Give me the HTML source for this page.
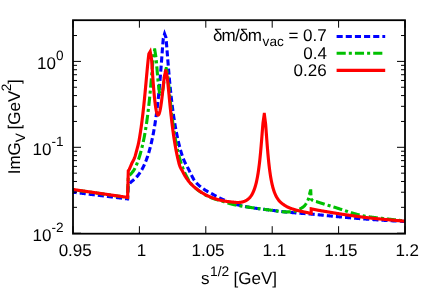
<!DOCTYPE html>
<html><head><meta charset="utf-8"><style>
html,body{margin:0;padding:0;background:#fff;}
svg{display:block;will-change:transform;}
text{font-family:"Liberation Sans",sans-serif;font-size:17px;fill:#000;text-rendering:geometricPrecision;}
</style></head><body>
<svg width="436" height="305" viewBox="0 0 436 305">
<g fill="none" stroke-linejoin="miter" stroke-miterlimit="12">
<path d="M73.00 192.20 L73.20 192.22 L73.40 192.25 L73.60 192.27 L73.80 192.30 L74.00 192.32 L74.20 192.35 L74.40 192.37 L74.60 192.40 L74.80 192.42 L75.00 192.45 L75.20 192.47 L75.40 192.49 L75.60 192.52 L75.80 192.54 L76.00 192.57 L76.20 192.59 L76.40 192.62 L76.60 192.64 L76.80 192.67 L77.00 192.69 L77.20 192.72 L77.40 192.74 L77.60 192.76 L77.80 192.79 L78.00 192.81 L78.20 192.84 L78.40 192.86 L78.60 192.89 L78.80 192.91 L79.00 192.94 L79.20 192.96 L79.40 192.99 L79.60 193.01 L79.80 193.03 L80.00 193.06 L80.20 193.08 L80.40 193.11 L80.60 193.13 L80.80 193.16 L81.00 193.18 L81.20 193.21 L81.40 193.23 L81.60 193.26 L81.80 193.28 L82.00 193.30 L82.20 193.33 L82.40 193.35 L82.60 193.38 L82.80 193.40 L83.00 193.43 L83.20 193.45 L83.40 193.48 L83.60 193.50 L83.80 193.53 L84.00 193.55 L84.20 193.57 L84.40 193.60 L84.60 193.62 L84.80 193.65 L85.00 193.67 L85.20 193.70 L85.40 193.72 L85.60 193.75 L85.80 193.77 L86.00 193.80 L86.20 193.82 L86.40 193.84 L86.60 193.87 L86.80 193.89 L87.00 193.92 L87.20 193.94 L87.40 193.97 L87.60 193.99 L87.80 194.02 L88.00 194.04 L88.20 194.07 L88.40 194.09 L88.60 194.11 L88.80 194.14 L89.00 194.16 L89.20 194.19 L89.40 194.21 L89.60 194.24 L89.80 194.26 L90.00 194.29 L90.20 194.31 L90.40 194.34 L90.60 194.36 L90.80 194.38 L91.00 194.41 L91.20 194.43 L91.40 194.46 L91.60 194.48 L91.80 194.51 L92.00 194.53 L92.20 194.56 L92.40 194.58 L92.60 194.61 L92.80 194.63 L93.00 194.65 L93.20 194.68 L93.40 194.70 L93.60 194.73 L93.80 194.75 L94.00 194.78 L94.20 194.80 L94.40 194.83 L94.60 194.85 L94.80 194.88 L95.00 194.90 L95.20 194.92 L95.40 194.95 L95.60 194.97 L95.80 195.00 L96.00 195.02 L96.20 195.05 L96.40 195.07 L96.60 195.10 L96.80 195.12 L97.00 195.15 L97.20 195.17 L97.40 195.19 L97.60 195.22 L97.80 195.24 L98.00 195.27 L98.20 195.29 L98.40 195.32 L98.60 195.34 L98.80 195.37 L99.00 195.39 L99.20 195.42 L99.40 195.44 L99.60 195.46 L99.80 195.49 L100.00 195.51 L100.20 195.54 L100.40 195.56 L100.60 195.59 L100.80 195.61 L101.00 195.64 L101.20 195.66 L101.40 195.68 L101.60 195.71 L101.80 195.73 L102.00 195.76 L102.20 195.78 L102.40 195.81 L102.60 195.83 L102.80 195.86 L103.00 195.88 L103.20 195.91 L103.40 195.93 L103.60 195.95 L103.80 195.98 L104.00 196.00 L104.20 196.03 L104.40 196.05 L104.60 196.08 L104.80 196.10 L105.00 196.13 L105.20 196.15 L105.40 196.18 L105.60 196.20 L105.80 196.22 L106.00 196.25 L106.20 196.27 L106.40 196.30 L106.60 196.32 L106.80 196.35 L107.00 196.37 L107.20 196.40 L107.40 196.42 L107.60 196.45 L107.80 196.47 L108.00 196.49 L108.20 196.52 L108.40 196.54 L108.60 196.57 L108.80 196.59 L109.00 196.62 L109.20 196.64 L109.40 196.67 L109.60 196.69 L109.80 196.72 L110.00 196.74 L110.20 196.76 L110.40 196.79 L110.60 196.81 L110.80 196.84 L111.00 196.86 L111.20 196.89 L111.40 196.91 L111.60 196.94 L111.80 196.96 L112.00 196.99 L112.20 197.01 L112.40 197.03 L112.60 197.06 L112.80 197.08 L113.00 197.11 L113.20 197.13 L113.40 197.16 L113.60 197.18 L113.80 197.21 L114.00 197.23 L114.20 197.26 L114.40 197.28 L114.60 197.30 L114.80 197.33 L115.00 197.35 L115.20 197.38 L115.40 197.40 L115.60 197.43 L115.80 197.45 L116.00 197.48 L116.20 197.50 L116.40 197.53 L116.60 197.55 L116.80 197.57 L117.00 197.60 L117.20 197.62 L117.40 197.65 L117.60 197.67 L117.80 197.70 L118.00 197.72 L118.20 197.75 L118.40 197.77 L118.60 197.80 L118.80 197.82 L119.00 197.84 L119.20 197.87 L119.40 197.89 L119.60 197.92 L119.80 197.94 L120.00 197.97 L120.20 197.99 L120.40 198.02 L120.60 198.04 L120.80 198.07 L121.00 198.09 L121.20 198.11 L121.40 198.14 L121.60 198.16 L121.80 198.19 L122.00 198.21 L122.20 198.24 L122.40 198.26 L122.60 198.29 L122.80 198.31 L123.00 198.34 L123.20 198.36 L123.40 198.38 L123.60 198.41 L123.80 198.43 L124.00 198.46 L124.20 198.48 L124.40 198.51 L124.60 198.53 L124.80 198.56 L125.00 198.58 L125.20 198.61 L125.40 198.63 L125.60 198.65 L125.80 198.68 L126.00 198.70 L126.20 198.73 L126.40 198.75 L126.60 198.78 L126.80 198.80 L127.00 198.83 L127.20 198.85 L127.40 198.88 L127.60 198.90 L128.30 186.00 L128.50 185.66 L128.70 185.30 L128.90 184.95 L129.10 184.59 L129.30 184.24 L129.50 183.90 L129.70 183.57 L129.90 183.26 L130.10 182.98 L130.30 182.71 L130.50 182.48 L130.70 182.29 L130.90 182.12 L131.10 181.96 L131.30 181.80 L131.50 181.64 L131.70 181.47 L131.90 181.31 L132.10 181.15 L132.30 180.98 L132.50 180.82 L132.70 180.65 L132.90 180.48 L133.10 180.31 L133.30 180.14 L133.50 179.96 L133.70 179.79 L133.90 179.61 L134.10 179.43 L134.30 179.25 L134.50 179.06 L134.70 178.88 L134.90 178.69 L135.10 178.49 L135.30 178.30 L135.50 178.10 L135.70 177.90 L135.90 177.69 L136.10 177.48 L136.30 177.27 L136.50 177.06 L136.70 176.84 L136.90 176.61 L137.10 176.39 L137.30 176.15 L137.50 175.92 L137.70 175.68 L137.90 175.43 L138.10 175.18 L138.30 174.93 L138.50 174.67 L138.70 174.41 L138.90 174.14 L139.10 173.86 L139.30 173.58 L139.50 173.30 L139.70 173.01 L139.90 172.72 L140.10 172.42 L140.30 172.12 L140.50 171.82 L140.70 171.50 L140.90 171.19 L141.10 170.86 L141.30 170.53 L141.50 170.20 L141.70 169.86 L141.90 169.51 L142.10 169.16 L142.30 168.80 L142.50 168.43 L142.70 168.06 L142.90 167.67 L143.10 167.29 L143.30 166.89 L143.50 166.49 L143.70 166.08 L143.90 165.66 L144.10 165.23 L144.30 164.80 L144.50 164.35 L144.70 163.90 L144.90 163.44 L145.10 162.97 L145.30 162.49 L145.50 162.01 L145.70 161.51 L145.90 161.01 L146.10 160.49 L146.30 159.97 L146.50 159.44 L146.70 158.89 L146.90 158.34 L147.10 157.78 L147.30 157.20 L147.50 156.62 L147.70 156.02 L147.90 155.41 L148.10 154.79 L148.30 154.16 L148.50 153.52 L148.70 152.87 L148.90 152.20 L149.10 151.52 L149.30 150.82 L149.50 150.11 L149.70 149.39 L149.90 148.66 L150.10 147.91 L150.30 147.14 L150.50 146.36 L150.70 145.57 L150.90 144.75 L151.10 143.92 L151.30 143.08 L151.50 142.22 L151.70 141.34 L151.90 140.44 L152.10 139.52 L152.30 138.58 L152.50 137.63 L152.70 136.65 L152.90 135.65 L153.10 134.64 L153.30 133.60 L153.50 132.53 L153.70 131.45 L153.90 130.34 L154.10 129.20 L154.30 128.05 L154.50 126.86 L154.70 125.65 L154.90 124.41 L155.10 123.14 L155.30 121.85 L155.50 120.52 L155.70 119.16 L155.90 117.77 L156.10 116.35 L156.30 114.90 L156.50 113.40 L156.70 111.88 L156.90 110.31 L157.10 108.71 L157.30 107.07 L157.50 105.39 L157.70 103.66 L157.90 101.89 L158.10 100.08 L158.30 98.22 L158.50 96.31 L158.70 94.36 L158.90 92.35 L159.10 90.30 L159.30 88.19 L159.50 86.03 L159.70 83.81 L159.90 81.54 L160.10 79.22 L160.30 76.84 L160.50 74.40 L160.70 71.92 L160.90 69.38 L161.10 66.79 L161.30 64.17 L161.50 61.51 L161.70 58.82 L161.90 56.11 L162.10 53.40 L162.30 50.70 L162.50 48.04 L162.70 45.43 L162.90 42.92 L163.10 40.53 L163.30 38.30 L164.60 33.84 L165.90 37.36 L166.10 39.36 L166.30 41.50 L166.50 43.78 L166.70 46.15 L166.90 48.59 L167.10 51.08 L167.30 53.60 L167.50 56.12 L167.70 58.65 L167.90 61.16 L168.10 63.64 L168.30 66.10 L168.50 68.52 L168.70 70.90 L168.90 73.24 L169.10 75.54 L169.30 77.79 L169.50 79.99 L169.70 82.15 L169.90 84.26 L170.10 86.32 L170.30 88.33 L170.50 90.30 L170.70 92.23 L170.90 94.11 L171.10 95.95 L171.30 97.74 L171.50 99.50 L171.70 101.21 L171.90 102.89 L172.10 104.53 L172.30 106.13 L172.50 107.69 L172.70 109.22 L172.90 110.72 L173.10 112.19 L173.30 113.62 L173.50 115.02 L173.70 116.39 L173.90 117.74 L174.10 119.05 L174.30 120.34 L174.50 121.60 L174.70 122.83 L174.90 124.04 L175.10 125.23 L175.30 126.39 L175.50 127.53 L175.70 128.64 L175.90 129.74 L176.10 130.81 L176.30 131.86 L176.50 132.90 L176.70 133.91 L176.90 134.90 L177.10 135.88 L177.30 136.83 L177.50 137.77 L177.70 138.69 L177.90 139.60 L178.10 140.48 L178.30 141.36 L178.50 142.21 L178.70 143.05 L178.90 143.88 L179.10 144.69 L179.30 145.49 L179.50 146.27 L179.70 147.04 L179.90 147.80 L180.10 148.54 L180.30 149.27 L180.50 149.99 L180.70 150.69 L180.90 151.39 L181.10 152.07 L181.30 152.74 L181.50 153.40 L181.70 154.05 L181.90 154.69 L182.10 155.31 L182.30 155.92 L182.50 156.51 L182.70 157.08 L182.90 157.64 L183.10 158.17 L183.30 158.70 L183.50 159.20 L183.70 159.69 L183.90 160.17 L184.10 160.63 L184.30 161.07 L184.50 161.51 L184.70 161.93 L184.90 162.35 L185.10 162.75 L185.30 163.14 L185.50 163.53 L185.70 163.91 L185.90 164.28 L186.10 164.65 L186.30 165.02 L186.50 165.38 L186.70 165.75 L186.90 166.11 L187.10 166.48 L187.30 166.84 L187.50 167.22 L187.70 167.60 L187.90 167.99 L188.10 168.38 L188.30 168.77 L188.50 169.16 L188.70 169.56 L188.90 169.96 L189.10 170.36 L189.30 170.77 L189.50 171.17 L189.70 171.58 L189.90 171.99 L190.10 172.40 L190.30 172.81 L190.50 173.21 L190.70 173.62 L190.90 174.03 L191.10 174.43 L191.30 174.84 L191.50 175.24 L191.70 175.63 L191.90 176.03 L192.10 176.42 L192.30 176.80 L192.50 177.18 L192.70 177.55 L192.90 177.92 L193.10 178.28 L193.30 178.64 L193.50 178.98 L193.70 179.32 L193.90 179.64 L194.10 179.96 L194.30 180.27 L194.50 180.56 L194.70 180.85 L194.90 181.12 L195.10 181.38 L195.30 181.62 L195.50 181.86 L195.70 182.09 L195.90 182.32 L196.10 182.55 L196.30 182.77 L196.50 182.99 L196.70 183.21 L196.90 183.42 L197.10 183.62 L197.30 183.82 L197.50 184.02 L197.70 184.22 L197.90 184.41 L198.10 184.60 L198.30 184.79 L198.50 184.97 L198.70 185.15 L198.90 185.33 L199.10 185.51 L199.30 185.68 L199.50 185.85 L199.70 186.02 L199.90 186.18 L200.10 186.34 L200.30 186.51 L200.50 186.66 L200.70 186.82 L200.90 186.98 L201.10 187.13 L201.30 187.29 L201.50 187.44 L201.70 187.59 L201.90 187.74 L202.10 187.89 L202.30 188.03 L202.50 188.18 L202.70 188.33 L202.90 188.47 L203.10 188.62 L203.30 188.76 L203.50 188.90 L203.70 189.04 L203.90 189.18 L204.10 189.31 L204.30 189.45 L204.50 189.58 L204.70 189.71 L204.90 189.84 L205.10 189.97 L205.30 190.10 L205.50 190.22 L205.70 190.35 L205.90 190.47 L206.10 190.59 L206.30 190.71 L206.50 190.83 L206.70 190.95 L206.90 191.07 L207.10 191.18 L207.30 191.30 L207.50 191.41 L207.70 191.52 L207.90 191.64 L208.10 191.75 L208.30 191.86 L208.50 191.97 L208.70 192.07 L208.90 192.18 L209.10 192.29 L209.30 192.39 L209.50 192.50 L209.70 192.60 L209.90 192.70 L210.10 192.81 L210.30 192.91 L210.50 193.02 L210.70 193.13 L210.90 193.23 L211.10 193.34 L211.30 193.45 L211.50 193.56 L211.70 193.67 L211.90 193.78 L212.10 193.89 L212.30 194.01 L212.50 194.12 L212.70 194.23 L212.90 194.34 L213.10 194.46 L213.30 194.57 L213.50 194.69 L213.70 194.80 L213.90 194.91 L214.10 195.03 L214.30 195.14 L214.50 195.26 L214.70 195.37 L214.90 195.48 L215.10 195.60 L215.30 195.71 L215.50 195.83 L215.70 195.94 L215.90 196.05 L216.10 196.17 L216.30 196.28 L216.50 196.39 L216.70 196.50 L216.90 196.61 L217.10 196.72 L217.30 196.83 L217.50 196.94 L217.70 197.05 L217.90 197.15 L218.10 197.26 L218.30 197.36 L218.50 197.47 L218.70 197.57 L218.90 197.67 L219.10 197.77 L219.30 197.87 L219.50 197.97 L219.70 198.07 L219.90 198.16 L220.10 198.25 L220.30 198.35 L220.50 198.44 L220.70 198.53 L220.90 198.62 L221.10 198.71 L221.30 198.80 L221.50 198.89 L221.70 198.98 L221.90 199.07 L222.10 199.16 L222.30 199.25 L222.50 199.34 L222.70 199.42 L222.90 199.51 L223.10 199.60 L223.30 199.69 L223.50 199.77 L223.70 199.86 L223.90 199.95 L224.10 200.03 L224.30 200.12 L224.50 200.20 L224.70 200.29 L224.90 200.37 L225.10 200.46 L225.30 200.54 L225.50 200.63 L225.70 200.71 L225.90 200.79 L226.10 200.87 L226.30 200.96 L226.50 201.04 L226.70 201.12 L226.90 201.20 L227.10 201.28 L227.30 201.36 L227.50 201.44 L227.70 201.52 L227.90 201.60 L228.10 201.68 L228.30 201.76 L228.50 201.83 L228.70 201.91 L228.90 201.99 L229.10 202.06 L229.30 202.14 L229.50 202.22 L229.70 202.29 L229.90 202.37 L230.10 202.44 L230.30 202.51 L230.50 202.59 L230.70 202.66 L230.90 202.73 L231.10 202.80 L231.30 202.87 L231.50 202.95 L231.70 203.02 L231.90 203.09 L232.10 203.15 L232.30 203.22 L232.50 203.29 L232.70 203.36 L232.90 203.43 L233.10 203.49 L233.30 203.56 L233.50 203.62 L233.70 203.69 L233.90 203.75 L234.10 203.82 L234.30 203.88 L234.50 203.94 L234.70 204.00 L234.90 204.06 L235.10 204.13 L235.30 204.19 L235.50 204.24 L235.70 204.30 L235.90 204.36 L236.10 204.42 L236.30 204.47 L236.50 204.53 L236.70 204.59 L236.90 204.64 L237.10 204.69 L237.30 204.75 L237.50 204.80 L237.70 204.85 L237.90 204.90 L238.10 204.95 L238.30 205.00 L238.50 205.06 L238.70 205.10 L238.90 205.15 L239.10 205.20 L239.30 205.25 L239.50 205.30 L239.70 205.35 L239.90 205.40 L240.10 205.44 L240.30 205.49 L240.50 205.54 L240.70 205.58 L240.90 205.63 L241.10 205.67 L241.30 205.72 L241.50 205.76 L241.70 205.81 L241.90 205.85 L242.10 205.89 L242.30 205.94 L242.50 205.98 L242.70 206.02 L242.90 206.06 L243.10 206.11 L243.30 206.15 L243.50 206.19 L243.70 206.23 L243.90 206.27 L244.10 206.31 L244.30 206.35 L244.50 206.39 L244.70 206.43 L244.90 206.47 L245.10 206.51 L245.30 206.55 L245.50 206.59 L245.70 206.63 L245.90 206.66 L246.10 206.70 L246.30 206.74 L246.50 206.78 L246.70 206.81 L246.90 206.85 L247.10 206.89 L247.30 206.92 L247.50 206.96 L247.70 207.00 L247.90 207.03 L248.10 207.07 L248.30 207.10 L248.50 207.14 L248.70 207.18 L248.90 207.21 L249.10 207.25 L249.30 207.28 L249.50 207.31 L249.70 207.35 L249.90 207.38 L250.10 207.42 L250.30 207.45 L250.50 207.48 L250.70 207.52 L250.90 207.55 L251.10 207.58 L251.30 207.62 L251.50 207.65 L251.70 207.68 L251.90 207.71 L252.10 207.75 L252.30 207.78 L252.50 207.81 L252.70 207.84 L252.90 207.87 L253.10 207.90 L253.30 207.93 L253.50 207.96 L253.70 207.99 L253.90 208.02 L254.10 208.05 L254.30 208.08 L254.50 208.11 L254.70 208.14 L254.90 208.17 L255.10 208.20 L255.30 208.23 L255.50 208.26 L255.70 208.29 L255.90 208.31 L256.10 208.34 L256.30 208.37 L256.50 208.40 L256.70 208.43 L256.90 208.45 L257.10 208.48 L257.30 208.51 L257.50 208.54 L257.70 208.56 L257.90 208.59 L258.10 208.62 L258.30 208.64 L258.50 208.67 L258.70 208.70 L258.90 208.72 L259.10 208.75 L259.30 208.77 L259.50 208.80 L259.70 208.83 L259.90 208.85 L260.10 208.88 L260.30 208.90 L260.50 208.93 L260.70 208.95 L260.90 208.98 L261.10 209.00 L261.30 209.03 L261.50 209.05 L261.70 209.08 L261.90 209.10 L262.10 209.13 L262.30 209.15 L262.50 209.18 L262.70 209.20 L262.90 209.23 L263.10 209.25 L263.30 209.28 L263.50 209.30 L263.70 209.32 L263.90 209.35 L264.10 209.37 L264.30 209.40 L264.50 209.42 L264.70 209.44 L264.90 209.47 L265.10 209.49 L265.30 209.52 L265.50 209.54 L265.70 209.56 L265.90 209.59 L266.10 209.61 L266.30 209.64 L266.50 209.66 L266.70 209.68 L266.90 209.71 L267.10 209.73 L267.30 209.75 L267.50 209.78 L267.70 209.80 L267.90 209.83 L268.10 209.85 L268.30 209.87 L268.50 209.90 L268.70 209.92 L268.90 209.94 L269.10 209.97 L269.30 209.99 L269.50 210.02 L269.70 210.04 L269.90 210.06 L270.10 210.09 L270.30 210.11 L270.50 210.14 L270.70 210.16 L270.90 210.18 L271.10 210.21 L271.30 210.23 L271.50 210.26 L271.70 210.28 L271.90 210.31 L272.10 210.33 L272.30 210.35 L272.50 210.38 L272.70 210.40 L272.90 210.43 L273.10 210.45 L273.30 210.48 L273.50 210.50 L273.70 210.53 L273.90 210.55 L274.10 210.57 L274.30 210.60 L274.50 210.62 L274.70 210.65 L274.90 210.67 L275.10 210.70 L275.30 210.72 L275.50 210.75 L275.70 210.77 L275.90 210.80 L276.10 210.82 L276.30 210.85 L276.50 210.87 L276.70 210.89 L276.90 210.92 L277.10 210.94 L277.30 210.97 L277.50 210.99 L277.70 211.02 L277.90 211.04 L278.10 211.07 L278.30 211.09 L278.50 211.12 L278.70 211.14 L278.90 211.16 L279.10 211.19 L279.30 211.21 L279.50 211.24 L279.70 211.26 L279.90 211.29 L280.10 211.31 L280.30 211.33 L280.50 211.36 L280.70 211.38 L280.90 211.41 L281.10 211.43 L281.30 211.45 L281.50 211.48 L281.70 211.50 L281.90 211.52 L282.10 211.55 L282.30 211.57 L282.50 211.60 L282.70 211.62 L282.90 211.64 L283.10 211.67 L283.30 211.69 L283.50 211.71 L283.70 211.73 L283.90 211.76 L284.10 211.78 L284.30 211.80 L284.50 211.83 L284.70 211.85 L284.90 211.87 L285.10 211.89 L285.30 211.91 L285.50 211.94 L285.70 211.96 L285.90 211.98 L286.10 212.00 L286.30 212.02 L286.50 212.05 L286.70 212.07 L286.90 212.09 L287.10 212.11 L287.30 212.13 L287.50 212.15 L287.70 212.17 L287.90 212.19 L288.10 212.21 L288.30 212.23 L288.50 212.25 L288.70 212.27 L288.90 212.29 L289.10 212.31 L289.30 212.33 L289.50 212.35 L289.70 212.37 L289.90 212.39 L290.10 212.41 L290.30 212.43 L290.50 212.45 L290.70 212.47 L290.90 212.48 L291.10 212.50 L291.30 212.52 L291.50 212.54 L291.70 212.56 L291.90 212.57 L292.10 212.59 L292.30 212.61 L292.50 212.63 L292.70 212.65 L292.90 212.66 L293.10 212.68 L293.30 212.70 L293.50 212.71 L293.70 212.73 L293.90 212.75 L294.10 212.76 L294.30 212.78 L294.50 212.80 L294.70 212.81 L294.90 212.83 L295.10 212.85 L295.30 212.86 L295.50 212.88 L295.70 212.90 L295.90 212.91 L296.10 212.93 L296.30 212.94 L296.50 212.96 L296.70 212.97 L296.90 212.99 L297.10 213.01 L297.30 213.02 L297.50 213.04 L297.70 213.05 L297.90 213.07 L298.10 213.08 L298.30 213.10 L298.50 213.11 L298.70 213.13 L298.90 213.14 L299.10 213.16 L299.30 213.17 L299.50 213.19 L299.70 213.20 L299.90 213.22 L300.10 213.24 L300.30 213.25 L300.50 213.27 L300.70 213.28 L300.90 213.30 L301.10 213.31 L301.30 213.33 L301.50 213.34 L301.70 213.35 L301.90 213.37 L302.10 213.38 L302.30 213.40 L302.50 213.41 L302.70 213.43 L302.90 213.44 L303.10 213.46 L303.30 213.47 L303.50 213.49 L303.70 213.50 L303.90 213.52 L304.10 213.53 L304.30 213.55 L304.50 213.56 L304.70 213.58 L304.90 213.60 L305.10 213.61 L305.30 213.63 L305.50 213.64 L305.70 213.66 L305.90 213.67 L306.10 213.69 L306.30 213.70 L306.50 213.72 L306.70 213.73 L306.90 213.75 L307.10 213.76 L307.30 213.78 L307.50 213.80 L307.70 213.81 L307.90 213.83 L308.10 213.84 L308.30 213.86 L308.50 213.88 L308.70 213.89 L308.90 213.91 L309.10 213.93 L309.30 213.94 L309.50 213.96 L309.70 213.97 L309.90 213.99 L310.10 214.01 L310.30 214.03 L310.50 214.04 L310.70 214.06 L310.90 214.08 L311.10 214.09 L311.30 214.11 L311.50 214.13 L311.70 214.15 L311.90 214.16 L312.10 214.18 L312.30 214.20 L312.50 214.22 L312.70 214.23 L312.90 214.25 L313.10 214.27 L313.30 214.29 L313.50 214.31 L313.70 214.32 L313.90 214.34 L314.10 214.36 L314.30 214.38 L314.50 214.40 L314.70 214.42 L314.90 214.43 L315.10 214.45 L315.30 214.47 L315.50 214.49 L315.70 214.51 L315.90 214.53 L316.10 214.55 L316.30 214.57 L316.50 214.59 L316.70 214.60 L316.90 214.62 L317.10 214.64 L317.30 214.66 L317.50 214.68 L317.70 214.70 L317.90 214.72 L318.10 214.74 L318.30 214.76 L318.50 214.78 L318.70 214.80 L318.90 214.82 L319.10 214.84 L319.30 214.86 L319.50 214.88 L319.70 214.90 L319.90 214.92 L320.10 214.94 L320.30 214.96 L320.50 214.98 L320.70 215.00 L320.90 215.02 L321.10 215.04 L321.30 215.06 L321.50 215.08 L321.70 215.10 L321.90 215.12 L322.10 215.14 L322.30 215.16 L322.50 215.18 L322.70 215.20 L322.90 215.22 L323.10 215.24 L323.30 215.26 L323.50 215.28 L323.70 215.30 L323.90 215.32 L324.10 215.34 L324.30 215.36 L324.50 215.38 L324.70 215.40 L324.90 215.42 L325.10 215.44 L325.30 215.46 L325.50 215.48 L325.70 215.50 L325.90 215.52 L326.10 215.54 L326.30 215.56 L326.50 215.58 L326.70 215.60 L326.90 215.62 L327.10 215.64 L327.30 215.66 L327.50 215.68 L327.70 215.70 L327.90 215.72 L328.10 215.74 L328.30 215.77 L328.50 215.79 L328.70 215.81 L328.90 215.83 L329.10 215.85 L329.30 215.87 L329.50 215.89 L329.70 215.91 L329.90 215.93 L330.10 215.95 L330.30 215.97 L330.50 215.99 L330.70 216.01 L330.90 216.03 L331.10 216.05 L331.30 216.07 L331.50 216.09 L331.70 216.11 L331.90 216.13 L332.10 216.15 L332.30 216.17 L332.50 216.19 L332.70 216.21 L332.90 216.23 L333.10 216.25 L333.30 216.27 L333.50 216.29 L333.70 216.31 L333.90 216.33 L334.10 216.35 L334.30 216.37 L334.50 216.38 L334.70 216.40 L334.90 216.42 L335.10 216.44 L335.30 216.46 L335.50 216.48 L335.70 216.50 L335.90 216.52 L336.10 216.54 L336.30 216.56 L336.50 216.58 L336.70 216.60 L336.90 216.62 L337.10 216.63 L337.30 216.65 L337.50 216.67 L337.70 216.69 L337.90 216.71 L338.10 216.73 L338.30 216.75 L338.50 216.76 L338.70 216.78 L338.90 216.80 L339.10 216.82 L339.30 216.84 L339.50 216.86 L339.70 216.87 L339.90 216.89 L340.10 216.91 L340.30 216.93 L340.50 216.94 L340.70 216.96 L340.90 216.98 L341.10 217.00 L341.30 217.02 L341.50 217.03 L341.70 217.05 L341.90 217.07 L342.10 217.09 L342.30 217.11 L342.50 217.12 L342.70 217.14 L342.90 217.16 L343.10 217.18 L343.30 217.19 L343.50 217.21 L343.70 217.23 L343.90 217.25 L344.10 217.27 L344.30 217.28 L344.50 217.30 L344.70 217.32 L344.90 217.34 L345.10 217.35 L345.30 217.37 L345.50 217.39 L345.70 217.41 L345.90 217.42 L346.10 217.44 L346.30 217.46 L346.50 217.48 L346.70 217.49 L346.90 217.51 L347.10 217.53 L347.30 217.55 L347.50 217.57 L347.70 217.58 L347.90 217.60 L348.10 217.62 L348.30 217.64 L348.50 217.65 L348.70 217.67 L348.90 217.69 L349.10 217.70 L349.30 217.72 L349.50 217.74 L349.70 217.76 L349.90 217.77 L350.10 217.79 L350.30 217.81 L350.50 217.83 L350.70 217.84 L350.90 217.86 L351.10 217.88 L351.30 217.90 L351.50 217.91 L351.70 217.93 L351.90 217.95 L352.10 217.96 L352.30 217.98 L352.50 218.00 L352.70 218.02 L352.90 218.03 L353.10 218.05 L353.30 218.07 L353.50 218.08 L353.70 218.10 L353.90 218.12 L354.10 218.13 L354.30 218.15 L354.50 218.17 L354.70 218.18 L354.90 218.20 L355.10 218.22 L355.30 218.23 L355.50 218.25 L355.70 218.27 L355.90 218.28 L356.10 218.30 L356.30 218.32 L356.50 218.33 L356.70 218.35 L356.90 218.37 L357.10 218.38 L357.30 218.40 L357.50 218.42 L357.70 218.43 L357.90 218.45 L358.10 218.46 L358.30 218.48 L358.50 218.50 L358.70 218.51 L358.90 218.53 L359.10 218.54 L359.30 218.56 L359.50 218.58 L359.70 218.59 L359.90 218.61 L360.10 218.62 L360.30 218.64 L360.50 218.66 L360.70 218.67 L360.90 218.69 L361.10 218.70 L361.30 218.72 L361.50 218.73 L361.70 218.75 L361.90 218.77 L362.10 218.78 L362.30 218.80 L362.50 218.81 L362.70 218.83 L362.90 218.84 L363.10 218.86 L363.30 218.87 L363.50 218.89 L363.70 218.90 L363.90 218.92 L364.10 218.93 L364.30 218.95 L364.50 218.96 L364.70 218.98 L364.90 218.99 L365.10 219.01 L365.30 219.02 L365.50 219.04 L365.70 219.05 L365.90 219.07 L366.10 219.08 L366.30 219.10 L366.50 219.11 L366.70 219.12 L366.90 219.14 L367.10 219.15 L367.30 219.17 L367.50 219.18 L367.70 219.20 L367.90 219.21 L368.10 219.23 L368.30 219.24 L368.50 219.26 L368.70 219.27 L368.90 219.28 L369.10 219.30 L369.30 219.31 L369.50 219.33 L369.70 219.34 L369.90 219.36 L370.10 219.37 L370.30 219.38 L370.50 219.40 L370.70 219.41 L370.90 219.43 L371.10 219.44 L371.30 219.46 L371.50 219.47 L371.70 219.48 L371.90 219.50 L372.10 219.51 L372.30 219.53 L372.50 219.54 L372.70 219.55 L372.90 219.57 L373.10 219.58 L373.30 219.60 L373.50 219.61 L373.70 219.62 L373.90 219.64 L374.10 219.65 L374.30 219.67 L374.50 219.68 L374.70 219.69 L374.90 219.71 L375.10 219.72 L375.30 219.73 L375.50 219.75 L375.70 219.76 L375.90 219.78 L376.10 219.79 L376.30 219.80 L376.50 219.82 L376.70 219.83 L376.90 219.84 L377.10 219.86 L377.30 219.87 L377.50 219.88 L377.70 219.90 L377.90 219.91 L378.10 219.92 L378.30 219.94 L378.50 219.95 L378.70 219.96 L378.90 219.98 L379.10 219.99 L379.30 220.00 L379.50 220.02 L379.70 220.03 L379.90 220.04 L380.10 220.06 L380.30 220.07 L380.50 220.08 L380.70 220.10 L380.90 220.11 L381.10 220.12 L381.30 220.14 L381.50 220.15 L381.70 220.16 L381.90 220.18 L382.10 220.19 L382.30 220.20 L382.50 220.21 L382.70 220.23 L382.90 220.24 L383.10 220.25 L383.30 220.27 L383.50 220.28 L383.70 220.29 L383.90 220.30 L384.10 220.32 L384.30 220.33 L384.50 220.34 L384.70 220.36 L384.90 220.37 L385.10 220.38 L385.30 220.39 L385.50 220.41 L385.70 220.42 L385.90 220.43 L386.10 220.44 L386.30 220.46 L386.50 220.47 L386.70 220.48 L386.90 220.49 L387.10 220.51 L387.30 220.52 L387.50 220.53 L387.70 220.54 L387.90 220.56 L388.10 220.57 L388.30 220.58 L388.50 220.59 L388.70 220.60 L388.90 220.62 L389.10 220.63 L389.30 220.64 L389.50 220.65 L389.70 220.67 L389.90 220.68 L390.10 220.69 L390.30 220.70 L390.50 220.71 L390.70 220.73 L390.90 220.74 L391.10 220.75 L391.30 220.76 L391.50 220.77 L391.70 220.79 L391.90 220.80 L392.10 220.81 L392.30 220.82 L392.50 220.83 L392.70 220.84 L392.90 220.86 L393.10 220.87 L393.30 220.88 L393.50 220.89 L393.70 220.90 L393.90 220.91 L394.10 220.93 L394.30 220.94 L394.50 220.95 L394.70 220.96 L394.90 220.97 L395.10 220.98 L395.30 220.99 L395.50 221.01 L395.70 221.02 L395.90 221.03 L396.10 221.04 L396.30 221.05 L396.50 221.06 L396.70 221.07 L396.90 221.08 L397.10 221.10 L397.30 221.11 L397.50 221.12 L397.70 221.13 L397.90 221.14 L398.10 221.15 L398.30 221.16 L398.50 221.17 L398.70 221.18 L398.90 221.19 L399.10 221.21 L399.30 221.22 L399.50 221.23 L399.70 221.24 L399.90 221.25 L400.10 221.26 L400.30 221.27 L400.50 221.28 L400.70 221.29 L400.90 221.30 L401.10 221.31 L401.30 221.32 L401.50 221.33 L401.70 221.34 L401.90 221.35 L402.10 221.36 L402.30 221.37 L402.50 221.38 L402.70 221.39 L402.90 221.40 L403.10 221.41 L403.30 221.42 L403.50 221.43 L403.70 221.44 L403.90 221.45 L404.10 221.46 L404.30 221.47 L404.50 221.48 L404.70 221.49 L404.90 221.50 L405.00 221.50" stroke="#0000ff" stroke-width="3.1" stroke-dasharray="6.1 3.05" stroke-dashoffset="2.40"/>
<path d="M73.00 189.70 L73.20 189.73 L73.40 189.76 L73.60 189.79 L73.80 189.81 L74.00 189.84 L74.20 189.87 L74.40 189.90 L74.60 189.93 L74.80 189.96 L75.00 189.99 L75.20 190.01 L75.40 190.04 L75.60 190.07 L75.80 190.10 L76.00 190.13 L76.20 190.16 L76.40 190.19 L76.60 190.21 L76.80 190.24 L77.00 190.27 L77.20 190.30 L77.40 190.33 L77.60 190.36 L77.80 190.39 L78.00 190.41 L78.20 190.44 L78.40 190.47 L78.60 190.50 L78.80 190.53 L79.00 190.56 L79.20 190.59 L79.40 190.61 L79.60 190.64 L79.80 190.67 L80.00 190.70 L80.20 190.73 L80.40 190.76 L80.60 190.79 L80.80 190.81 L81.00 190.84 L81.20 190.87 L81.40 190.90 L81.60 190.93 L81.80 190.96 L82.00 190.99 L82.20 191.01 L82.40 191.04 L82.60 191.07 L82.80 191.10 L83.00 191.13 L83.20 191.16 L83.40 191.19 L83.60 191.21 L83.80 191.24 L84.00 191.27 L84.20 191.30 L84.40 191.33 L84.60 191.36 L84.80 191.39 L85.00 191.41 L85.20 191.44 L85.40 191.47 L85.60 191.50 L85.80 191.53 L86.00 191.56 L86.20 191.59 L86.40 191.61 L86.60 191.64 L86.80 191.67 L87.00 191.70 L87.20 191.73 L87.40 191.76 L87.60 191.79 L87.80 191.81 L88.00 191.84 L88.20 191.87 L88.40 191.90 L88.60 191.93 L88.80 191.96 L89.00 191.99 L89.20 192.01 L89.40 192.04 L89.60 192.07 L89.80 192.10 L90.00 192.13 L90.20 192.16 L90.40 192.19 L90.60 192.21 L90.80 192.24 L91.00 192.27 L91.20 192.30 L91.40 192.33 L91.60 192.36 L91.80 192.39 L92.00 192.41 L92.20 192.44 L92.40 192.47 L92.60 192.50 L92.80 192.53 L93.00 192.56 L93.20 192.59 L93.40 192.61 L93.60 192.64 L93.80 192.67 L94.00 192.70 L94.20 192.73 L94.40 192.76 L94.60 192.79 L94.80 192.81 L95.00 192.84 L95.20 192.87 L95.40 192.90 L95.60 192.93 L95.80 192.96 L96.00 192.99 L96.20 193.01 L96.40 193.04 L96.60 193.07 L96.80 193.10 L97.00 193.13 L97.20 193.16 L97.40 193.19 L97.60 193.21 L97.80 193.24 L98.00 193.27 L98.20 193.30 L98.40 193.33 L98.60 193.36 L98.80 193.39 L99.00 193.41 L99.20 193.44 L99.40 193.47 L99.60 193.50 L99.80 193.53 L100.00 193.56 L100.20 193.59 L100.40 193.61 L100.60 193.64 L100.80 193.67 L101.00 193.70 L101.20 193.73 L101.40 193.76 L101.60 193.79 L101.80 193.81 L102.00 193.84 L102.20 193.87 L102.40 193.90 L102.60 193.93 L102.80 193.96 L103.00 193.99 L103.20 194.01 L103.40 194.04 L103.60 194.07 L103.80 194.10 L104.00 194.13 L104.20 194.16 L104.40 194.19 L104.60 194.21 L104.80 194.24 L105.00 194.27 L105.20 194.30 L105.40 194.33 L105.60 194.36 L105.80 194.39 L106.00 194.41 L106.20 194.44 L106.40 194.47 L106.60 194.50 L106.80 194.53 L107.00 194.56 L107.20 194.59 L107.40 194.61 L107.60 194.64 L107.80 194.67 L108.00 194.70 L108.20 194.73 L108.40 194.76 L108.60 194.79 L108.80 194.81 L109.00 194.84 L109.20 194.87 L109.40 194.90 L109.60 194.93 L109.80 194.96 L110.00 194.99 L110.20 195.01 L110.40 195.04 L110.60 195.07 L110.80 195.10 L111.00 195.13 L111.20 195.16 L111.40 195.19 L111.60 195.21 L111.80 195.24 L112.00 195.27 L112.20 195.30 L112.40 195.33 L112.60 195.36 L112.80 195.39 L113.00 195.41 L113.20 195.44 L113.40 195.47 L113.60 195.50 L113.80 195.53 L114.00 195.56 L114.20 195.59 L114.40 195.61 L114.60 195.64 L114.80 195.67 L115.00 195.70 L115.20 195.73 L115.40 195.76 L115.60 195.79 L115.80 195.81 L116.00 195.84 L116.20 195.87 L116.40 195.90 L116.60 195.93 L116.80 195.96 L117.00 195.99 L117.20 196.01 L117.40 196.04 L117.60 196.07 L117.80 196.10 L118.00 196.13 L118.20 196.16 L118.40 196.19 L118.60 196.21 L118.80 196.24 L119.00 196.27 L119.20 196.30 L119.40 196.33 L119.60 196.36 L119.80 196.39 L120.00 196.41 L120.20 196.44 L120.40 196.47 L120.60 196.50 L120.80 196.53 L121.00 196.56 L121.20 196.59 L121.40 196.61 L121.60 196.64 L121.80 196.67 L122.00 196.70 L122.20 196.73 L122.40 196.76 L122.60 196.79 L122.80 196.81 L123.00 196.84 L123.20 196.87 L123.40 196.90 L123.60 196.93 L123.80 196.96 L124.00 196.99 L124.20 197.01 L124.40 197.04 L124.60 197.07 L124.80 197.10 L125.00 197.13 L125.20 197.16 L125.40 197.19 L125.60 197.21 L125.80 197.24 L126.00 197.27 L126.20 197.30 L126.40 197.33 L126.60 197.36 L126.80 197.39 L127.00 197.41 L127.20 197.44 L127.40 197.47 L127.60 197.50 L128.30 176.50 L128.50 176.32 L128.70 176.14 L128.90 175.95 L129.10 175.76 L129.30 175.57 L129.50 175.37 L129.70 175.17 L129.90 174.97 L130.10 174.76 L130.30 174.55 L130.50 174.33 L130.70 174.11 L130.90 173.89 L131.10 173.67 L131.30 173.45 L131.50 173.22 L131.70 173.00 L131.90 172.78 L132.10 172.55 L132.30 172.31 L132.50 172.07 L132.70 171.82 L132.90 171.56 L133.10 171.29 L133.30 171.02 L133.50 170.73 L133.70 170.42 L133.90 170.11 L134.10 169.78 L134.30 169.44 L134.50 169.08 L134.70 168.71 L134.90 168.32 L135.10 167.91 L135.30 167.49 L135.50 167.05 L135.70 166.61 L135.90 166.16 L136.10 165.71 L136.30 165.24 L136.50 164.76 L136.70 164.28 L136.90 163.79 L137.10 163.29 L137.30 162.77 L137.50 162.25 L137.70 161.72 L137.90 161.18 L138.10 160.63 L138.30 160.06 L138.50 159.49 L138.70 158.90 L138.90 158.31 L139.10 157.70 L139.30 157.08 L139.50 156.45 L139.70 155.80 L139.90 155.14 L140.10 154.47 L140.30 153.79 L140.50 153.09 L140.70 152.38 L140.90 151.65 L141.10 150.91 L141.30 150.15 L141.50 149.38 L141.70 148.59 L141.90 147.79 L142.10 146.97 L142.30 146.13 L142.50 145.27 L142.70 144.40 L142.90 143.50 L143.10 142.59 L143.30 141.66 L143.50 140.71 L143.70 139.73 L143.90 138.74 L144.10 137.72 L144.30 136.68 L144.50 135.62 L144.70 134.53 L144.90 133.42 L145.10 132.28 L145.30 131.12 L145.50 129.92 L145.70 128.71 L145.90 127.46 L146.10 126.18 L146.30 124.87 L146.50 123.53 L146.70 122.16 L146.90 120.75 L147.10 119.31 L147.30 117.84 L147.50 116.33 L147.70 114.78 L147.90 113.19 L148.10 111.56 L148.30 109.89 L148.50 108.18 L148.70 106.43 L148.90 104.64 L149.10 102.79 L149.30 100.91 L149.50 98.98 L149.70 97.00 L149.90 94.98 L150.10 92.91 L150.30 90.80 L150.50 88.64 L150.70 86.44 L150.90 84.20 L151.10 81.93 L151.30 79.63 L151.50 77.30 L151.70 74.95 L151.90 72.60 L152.10 70.25 L152.30 67.92 L152.50 65.63 L152.70 63.39 L152.90 61.23 L153.10 59.18 L153.30 57.26 L153.40 56.36 L154.65 49.75 L154.75 49.75 L156.00 57.47 L156.10 58.52 L156.30 60.74 L156.50 63.05 L156.70 65.43 L156.90 67.84 L157.10 70.24 L157.30 72.61 L157.50 74.93 L157.70 77.17 L157.90 79.33 L158.10 81.39 L158.30 83.34 L158.50 85.17 L158.70 86.88 L158.90 88.46 L159.10 89.90 L159.30 91.20 L159.50 92.35 L159.70 93.37 L159.90 94.23 L160.10 94.94 L160.30 95.50 L160.50 95.91 L160.70 96.17 L160.90 96.27 L161.10 96.22 L161.30 96.01 L161.50 95.66 L161.70 95.16 L161.90 94.51 L162.10 93.72 L162.30 92.79 L162.50 91.74 L162.70 90.55 L162.90 89.26 L163.10 87.86 L163.30 86.37 L163.50 84.80 L163.70 83.17 L163.90 81.49 L164.10 79.80 L164.30 78.12 L164.50 76.47 L164.70 74.89 L164.90 73.40 L166.15 68.55 L166.25 68.55 L167.50 73.92 L167.70 75.47 L167.90 77.14 L168.10 78.93 L168.30 80.80 L168.50 82.74 L168.70 84.73 L168.90 86.75 L169.10 88.80 L169.30 90.85 L169.50 92.90 L169.70 94.95 L169.90 96.97 L170.10 98.98 L170.30 100.96 L170.50 102.90 L170.70 104.82 L170.90 106.70 L171.10 108.54 L171.30 110.35 L171.50 112.11 L171.70 113.84 L171.90 115.53 L172.10 117.18 L172.30 118.80 L172.50 120.37 L172.70 121.91 L172.90 123.42 L173.10 124.88 L173.30 126.32 L173.50 127.72 L173.70 129.08 L173.90 130.42 L174.10 131.72 L174.30 132.99 L174.50 134.23 L174.70 135.45 L174.90 136.63 L175.10 137.79 L175.30 138.93 L175.50 140.03 L175.70 141.11 L175.90 142.17 L176.10 143.21 L176.30 144.22 L176.50 145.21 L176.70 146.18 L176.90 147.12 L177.10 148.05 L177.30 148.96 L177.50 149.85 L177.70 150.72 L177.90 151.57 L178.10 152.40 L178.30 153.22 L178.50 154.02 L178.70 154.81 L178.90 155.57 L179.10 156.33 L179.30 157.07 L179.50 157.79 L179.70 158.50 L179.90 159.20 L180.10 159.88 L180.30 160.55 L180.50 161.21 L180.70 161.85 L180.90 162.49 L181.10 163.11 L181.30 163.72 L181.50 164.32 L181.70 164.91 L181.90 165.48 L182.10 166.05 L182.30 166.61 L182.50 167.15 L182.70 167.69 L182.90 168.22 L183.10 168.74 L183.30 169.25 L183.50 169.75 L183.70 170.24 L183.90 170.72 L184.10 171.20 L184.30 171.67 L184.50 172.13 L184.70 172.58 L184.90 173.02 L185.10 173.46 L185.30 173.89 L185.50 174.31 L185.70 174.73 L185.90 175.14 L186.10 175.54 L186.30 175.94 L186.50 176.33 L186.70 176.71 L186.90 177.09 L187.10 177.46 L187.30 177.83 L187.50 178.19 L187.70 178.54 L187.90 178.89 L188.10 179.24 L188.30 179.57 L188.50 179.91 L188.70 180.24 L188.90 180.56 L189.10 180.88 L189.30 181.19 L189.50 181.50 L189.70 181.80 L189.90 182.10 L190.10 182.38 L190.30 182.66 L190.50 182.93 L190.70 183.20 L190.90 183.45 L191.10 183.71 L191.30 183.95 L191.50 184.19 L191.70 184.42 L191.90 184.64 L192.10 184.87 L192.30 185.08 L192.50 185.29 L192.70 185.50 L192.90 185.70 L193.10 185.90 L193.30 186.09 L193.50 186.28 L193.70 186.47 L193.90 186.65 L194.10 186.83 L194.30 187.01 L194.50 187.19 L194.70 187.37 L194.90 187.54 L195.10 187.72 L195.30 187.89 L195.50 188.06 L195.70 188.24 L195.90 188.41 L196.10 188.59 L196.30 188.76 L196.50 188.93 L196.70 189.10 L196.90 189.27 L197.10 189.43 L197.30 189.59 L197.50 189.75 L197.70 189.91 L197.90 190.06 L198.10 190.22 L198.30 190.37 L198.50 190.52 L198.70 190.67 L198.90 190.81 L199.10 190.96 L199.30 191.11 L199.50 191.25 L199.70 191.39 L199.90 191.53 L200.10 191.67 L200.30 191.81 L200.50 191.95 L200.70 192.09 L200.90 192.23 L201.10 192.37 L201.30 192.51 L201.50 192.64 L201.70 192.78 L201.90 192.91 L202.10 193.04 L202.30 193.17 L202.50 193.30 L202.70 193.43 L202.90 193.56 L203.10 193.69 L203.30 193.81 L203.50 193.94 L203.70 194.06 L203.90 194.18 L204.10 194.30 L204.30 194.42 L204.50 194.54 L204.70 194.66 L204.90 194.78 L205.10 194.89 L205.30 195.01 L205.50 195.12 L205.70 195.23 L205.90 195.34 L206.10 195.45 L206.30 195.55 L206.50 195.66 L206.70 195.76 L206.90 195.86 L207.10 195.97 L207.30 196.06 L207.50 196.16 L207.70 196.26 L207.90 196.35 L208.10 196.45 L208.30 196.54 L208.50 196.63 L208.70 196.72 L208.90 196.81 L209.10 196.90 L209.30 196.98 L209.50 197.07 L209.70 197.15 L209.90 197.24 L210.10 197.32 L210.30 197.40 L210.50 197.49 L210.70 197.57 L210.90 197.65 L211.10 197.72 L211.30 197.80 L211.50 197.88 L211.70 197.96 L211.90 198.03 L212.10 198.11 L212.30 198.18 L212.50 198.25 L212.70 198.33 L212.90 198.40 L213.10 198.47 L213.30 198.54 L213.50 198.61 L213.70 198.68 L213.90 198.75 L214.10 198.81 L214.30 198.88 L214.50 198.95 L214.70 199.01 L214.90 199.08 L215.10 199.14 L215.30 199.21 L215.50 199.27 L215.70 199.33 L215.90 199.39 L216.10 199.46 L216.30 199.52 L216.50 199.58 L216.70 199.64 L216.90 199.70 L217.10 199.75 L217.30 199.81 L217.50 199.87 L217.70 199.93 L217.90 199.98 L218.10 200.04 L218.30 200.09 L218.50 200.15 L218.70 200.20 L218.90 200.26 L219.10 200.31 L219.30 200.37 L219.50 200.42 L219.70 200.47 L219.90 200.52 L220.10 200.57 L220.30 200.63 L220.50 200.68 L220.70 200.73 L220.90 200.78 L221.00 200.81" stroke="#00c000" stroke-width="3.1" stroke-dasharray="9.15 3.05 3.05 3.05" stroke-dashoffset="13.66"/>
<path d="M221.00 200.81 L221.20 200.87 L221.40 200.92 L221.60 200.98 L221.80 201.04 L222.00 201.10 L222.20 201.16 L222.40 201.22 L222.60 201.28 L222.80 201.34 L223.00 201.40 L223.20 201.46 L223.40 201.52 L223.60 201.59 L223.80 201.65 L224.00 201.72 L224.20 201.78 L224.40 201.84 L224.60 201.91 L224.80 201.98 L225.00 202.04 L225.20 202.11 L225.40 202.17 L225.60 202.24 L225.80 202.31 L226.00 202.37 L226.20 202.44 L226.40 202.51 L226.60 202.57 L226.80 202.64 L227.00 202.70 L227.20 202.77 L227.40 202.84 L227.60 202.90 L227.80 202.97 L228.00 203.03 L228.20 203.10 L228.40 203.16 L228.60 203.23 L228.80 203.29 L229.00 203.35 L229.20 203.41 L229.40 203.48 L229.60 203.54 L229.80 203.60 L230.00 203.66 L230.20 203.72 L230.40 203.78 L230.60 203.83 L230.80 203.89 L231.00 203.95 L231.20 204.00 L231.40 204.05 L231.60 204.11 L231.80 204.16 L232.00 204.21 L232.20 204.26 L232.40 204.31 L232.60 204.35 L232.80 204.40 L233.00 204.44 L233.20 204.49 L233.40 204.53 L233.60 204.58 L233.80 204.62 L234.00 204.66 L234.20 204.70 L234.40 204.75 L234.60 204.79 L234.80 204.83 L235.00 204.87 L235.20 204.91 L235.40 204.95 L235.60 204.99 L235.80 205.03 L236.00 205.07 L236.20 205.11 L236.40 205.14 L236.60 205.18 L236.80 205.22 L237.00 205.26 L237.20 205.29 L237.40 205.33 L237.60 205.37 L237.80 205.40 L238.00 205.44 L238.20 205.48 L238.40 205.51 L238.60 205.55 L238.80 205.58 L239.00 205.62 L239.20 205.65 L239.40 205.68 L239.60 205.72 L239.80 205.75 L240.00 205.79 L240.20 205.82 L240.40 205.85 L240.60 205.89 L240.80 205.92 L241.00 205.95 L241.20 205.99 L241.40 206.02 L241.60 206.05 L241.80 206.08 L242.00 206.12 L242.20 206.15 L242.40 206.18 L242.60 206.21 L242.80 206.25 L243.00 206.28 L243.20 206.31 L243.40 206.34 L243.60 206.38 L243.80 206.41 L244.00 206.44 L244.20 206.47 L244.40 206.50 L244.60 206.54 L244.80 206.57 L245.00 206.60 L245.20 206.63 L245.40 206.66 L245.60 206.70 L245.80 206.73 L246.00 206.76 L246.20 206.79 L246.40 206.82 L246.60 206.85 L246.80 206.89 L247.00 206.92 L247.20 206.95 L247.40 206.98 L247.60 207.01 L247.80 207.04 L248.00 207.07 L248.20 207.10 L248.40 207.13 L248.60 207.16 L248.80 207.20 L249.00 207.23 L249.20 207.26 L249.40 207.29 L249.60 207.32 L249.80 207.35 L250.00 207.38 L250.20 207.41 L250.40 207.44 L250.60 207.47 L250.80 207.50 L251.00 207.53 L251.20 207.55 L251.40 207.58 L251.60 207.61 L251.80 207.64 L252.00 207.67 L252.20 207.70 L252.40 207.73 L252.60 207.76 L252.80 207.79 L253.00 207.82 L253.20 207.85 L253.40 207.87 L253.60 207.90 L253.80 207.93 L254.00 207.96 L254.20 207.99 L254.40 208.02 L254.60 208.05 L254.80 208.07 L255.00 208.10 L255.20 208.13 L255.40 208.16 L255.60 208.19 L255.80 208.21 L256.00 208.24 L256.20 208.27 L256.40 208.30 L256.60 208.33 L256.80 208.35 L257.00 208.38 L257.20 208.41 L257.40 208.44 L257.60 208.46 L257.80 208.49 L258.00 208.52 L258.20 208.55 L258.40 208.57 L258.60 208.60 L258.80 208.63 L259.00 208.65 L259.20 208.68 L259.40 208.71 L259.60 208.74 L259.80 208.76 L260.00 208.79 L260.20 208.82 L260.40 208.84 L260.60 208.87 L260.80 208.90 L261.00 208.92 L261.20 208.95 L261.40 208.98 L261.60 209.00 L261.80 209.03 L262.00 209.06 L262.20 209.08 L262.40 209.11 L262.60 209.13 L262.80 209.16 L263.00 209.19 L263.20 209.21 L263.40 209.24 L263.60 209.26 L263.80 209.29 L264.00 209.32 L264.20 209.34 L264.40 209.37 L264.60 209.39 L264.80 209.42 L265.00 209.45 L265.20 209.47 L265.40 209.50 L265.60 209.52 L265.80 209.55 L266.00 209.57 L266.20 209.60 L266.40 209.62 L266.60 209.65 L266.80 209.67 L267.00 209.70 L267.20 209.73 L267.40 209.75 L267.60 209.78 L267.80 209.80 L268.00 209.83 L268.20 209.85 L268.40 209.88 L268.60 209.90 L268.80 209.93 L269.00 209.95 L269.20 209.98 L269.40 210.00 L269.60 210.03 L269.80 210.05 L270.00 210.08 L270.20 210.10 L270.40 210.12 L270.60 210.15 L270.80 210.18 L271.00 210.20 L271.20 210.23 L271.40 210.26 L271.60 210.28 L271.80 210.31 L272.00 210.34 L272.20 210.37 L272.40 210.39 L272.60 210.42 L272.80 210.45 L273.00 210.48 L273.20 210.51 L273.40 210.54 L273.60 210.57 L273.80 210.60 L274.00 210.63 L274.20 210.66 L274.40 210.69 L274.60 210.72 L274.80 210.75 L275.00 210.78 L275.20 210.81 L275.40 210.84 L275.60 210.87 L275.80 210.90 L276.00 210.93 L276.20 210.96 L276.40 210.98 L276.60 211.01 L276.80 211.04 L277.00 211.07 L277.20 211.10 L277.40 211.13 L277.60 211.16 L277.80 211.19 L278.00 211.22 L278.20 211.24 L278.40 211.27 L278.60 211.30 L278.80 211.33 L279.00 211.35 L279.20 211.38 L279.40 211.40 L279.60 211.43 L279.80 211.45 L280.00 211.48 L280.20 211.50 L280.40 211.53 L280.60 211.55 L280.80 211.57 L281.00 211.59 L281.20 211.62 L281.40 211.64 L281.60 211.66 L281.80 211.68 L282.00 211.70 L282.20 211.72 L282.40 211.73 L282.60 211.75 L282.80 211.77 L283.00 211.78 L283.20 211.80 L283.40 211.81 L283.60 211.83 L283.80 211.84 L284.00 211.85 L284.20 211.86 L284.40 211.87 L284.60 211.88 L284.80 211.89 L285.00 211.90 L285.20 211.91 L285.40 211.91 L285.60 211.92 L285.80 211.92 L286.00 211.93 L286.20 211.93 L286.40 211.93 L286.60 211.93 L286.80 211.93 L287.00 211.93 L287.20 211.93 L287.40 211.93 L287.60 211.92 L287.80 211.92 L288.00 211.91 L288.20 211.91 L288.40 211.90 L288.60 211.90 L288.80 211.89 L289.00 211.88 L289.20 211.87 L289.40 211.86 L289.60 211.85 L289.80 211.84 L290.00 211.83 L290.20 211.82 L290.40 211.81 L290.60 211.79 L290.80 211.78 L291.00 211.77 L291.20 211.75 L291.40 211.74 L291.60 211.72 L291.80 211.70 L292.00 211.69 L292.20 211.67 L292.40 211.65 L292.60 211.64 L292.80 211.62 L293.00 211.60 L293.20 211.58 L293.40 211.55 L293.60 211.52 L293.80 211.48 L294.00 211.44 L294.20 211.40 L294.40 211.35 L294.60 211.29 L294.80 211.23 L295.00 211.17 L295.20 211.10 L295.40 211.03 L295.60 210.96 L295.80 210.89 L296.00 210.81 L296.20 210.73 L296.40 210.64 L296.60 210.55 L296.80 210.47 L297.00 210.38 L297.20 210.28 L297.40 210.19 L297.60 210.09 L297.80 210.00 L298.00 209.90 L298.20 209.80 L298.40 209.70 L298.60 209.60 L298.80 209.50 L299.00 209.40 L299.20 209.30 L299.40 209.20 L299.60 209.10 L299.80 209.00 L300.00 208.90 L300.20 208.80 L300.40 208.70 L300.60 208.59 L300.80 208.48 L301.00 208.38 L301.20 208.26 L301.40 208.15 L301.60 208.03 L301.80 207.90 L302.00 207.78 L302.20 207.65 L302.40 207.51 L302.60 207.37 L302.80 207.23 L303.00 207.07 L303.20 206.92 L303.40 206.76 L303.60 206.59 L303.80 206.41 L304.00 206.22 L304.20 206.03 L304.40 205.82 L304.60 205.60 L304.80 205.37 L305.00 205.13 L305.20 204.88 L305.40 204.62 L305.60 204.34 L305.80 204.06 L306.00 203.76 L306.20 203.46 L306.40 203.14 L306.60 202.81 L306.80 202.47 L307.00 202.12 L307.20 201.75 L307.40 201.35 L307.60 200.93 L307.80 200.48 L308.00 199.99 L308.20 199.47 L308.40 198.91 L308.60 198.31 L308.80 197.66 L309.00 196.84 L309.20 195.91 L309.40 194.95 L309.60 194.03 L309.80 193.19 L310.00 192.40 L310.20 191.63 L310.40 190.88 L310.45 190.70 L310.75 190.70 L310.95 195.27 L311.15 197.73 L311.35 199.18 L311.55 199.46 L311.75 199.66 L311.95 199.84 L312.15 200.01 L312.35 200.17 L312.55 200.31 L312.75 200.44 L312.95 200.56 L313.15 200.66 L313.35 200.76 L313.55 200.85 L313.75 200.93 L313.95 201.00 L314.15 201.07 L314.35 201.13 L314.55 201.18 L314.75 201.24 L314.95 201.28 L315.15 201.33 L315.35 201.37 L315.55 201.41 L315.75 201.46 L315.95 201.50 L316.15 201.54 L316.35 201.59 L316.55 201.64 L316.75 201.69 L316.95 201.75 L317.15 201.81 L317.35 201.88 L317.55 201.96 L317.75 202.03 L317.95 202.10 L318.15 202.17 L318.35 202.24 L318.55 202.31 L318.75 202.38 L318.95 202.45 L319.15 202.51 L319.35 202.58 L319.55 202.64 L319.75 202.71 L319.95 202.77 L320.15 202.84 L320.35 202.90 L320.55 202.96 L320.75 203.03 L320.95 203.09 L321.15 203.15 L321.35 203.22 L321.55 203.28 L321.75 203.34 L321.95 203.40 L322.15 203.46 L322.35 203.53 L322.55 203.59 L322.75 203.65 L322.95 203.72 L323.15 203.78 L323.35 203.84 L323.55 203.90 L323.75 203.97 L323.95 204.03 L324.15 204.09 L324.35 204.15 L324.55 204.21 L324.75 204.28 L324.95 204.34 L325.15 204.40 L325.35 204.46 L325.55 204.52 L325.75 204.58 L325.95 204.64 L326.15 204.70 L326.35 204.76 L326.55 204.82 L326.75 204.88 L326.95 204.94 L327.15 205.00 L327.35 205.06 L327.55 205.12 L327.75 205.18 L327.95 205.24 L328.15 205.30 L328.35 205.36 L328.55 205.42 L328.75 205.48 L328.95 205.54 L329.15 205.60 L329.35 205.66 L329.55 205.72 L329.75 205.78 L329.95 205.84 L330.15 205.90 L330.35 205.96 L330.55 206.02 L330.75 206.09 L330.95 206.15 L331.15 206.21 L331.35 206.27 L331.55 206.33 L331.75 206.39 L331.95 206.45 L332.15 206.52 L332.35 206.58 L332.55 206.64 L332.75 206.70 L332.95 206.76 L333.15 206.83 L333.35 206.89 L333.55 206.95 L333.75 207.01 L333.95 207.08 L334.15 207.14 L334.35 207.20 L334.55 207.27 L334.75 207.33 L334.95 207.39 L335.15 207.45 L335.35 207.52 L335.55 207.58 L335.75 207.64 L335.95 207.71 L336.15 207.77 L336.35 207.83 L336.55 207.90 L336.75 207.96 L336.95 208.02 L337.15 208.09 L337.35 208.15 L337.55 208.22 L337.75 208.28 L337.95 208.34 L338.15 208.41 L338.35 208.47 L338.55 208.53 L338.75 208.60 L338.95 208.66 L339.15 208.73 L339.35 208.79 L339.55 208.86 L339.75 208.92 L339.95 208.98 L340.15 209.05 L340.35 209.11 L340.55 209.18 L340.75 209.24 L340.95 209.31 L341.15 209.38 L341.35 209.44 L341.55 209.51 L341.75 209.57 L341.95 209.64 L342.15 209.71 L342.35 209.78 L342.55 209.84 L342.75 209.91 L342.95 209.98 L343.15 210.05 L343.35 210.11 L343.55 210.18 L343.75 210.25 L343.95 210.32 L344.15 210.39 L344.35 210.45 L344.55 210.52 L344.75 210.59 L344.95 210.66 L345.15 210.73 L345.35 210.79 L345.55 210.86 L345.75 210.93 L345.95 211.00 L346.15 211.06 L346.35 211.13 L346.55 211.20 L346.75 211.26 L346.95 211.33 L347.15 211.40 L347.35 211.46 L347.55 211.53 L347.75 211.59 L347.95 211.66 L348.15 211.72 L348.35 211.79 L348.55 211.85 L348.75 211.92 L348.95 211.98 L349.15 212.04 L349.35 212.10 L349.55 212.17 L349.75 212.23 L349.95 212.29 L350.15 212.35 L350.35 212.41 L350.55 212.47 L350.75 212.53 L350.95 212.59 L351.15 212.64 L351.35 212.70 L351.55 212.76 L351.75 212.82 L351.95 212.88 L352.15 212.93 L352.35 212.99 L352.55 213.05 L352.75 213.11 L352.95 213.17 L353.15 213.23 L353.35 213.28 L353.55 213.34 L353.75 213.40 L353.95 213.46 L354.15 213.52 L354.35 213.58 L354.55 213.63 L354.75 213.69 L354.95 213.75 L355.15 213.81 L355.35 213.87 L355.55 213.92 L355.75 213.98 L355.95 214.04 L356.15 214.09 L356.35 214.15 L356.55 214.21 L356.75 214.26 L356.95 214.32 L357.15 214.37 L357.35 214.43 L357.55 214.48 L357.75 214.54 L357.95 214.59 L358.15 214.65 L358.35 214.70 L358.55 214.75 L358.75 214.81 L358.95 214.86 L359.15 214.91 L359.35 214.96 L359.55 215.02 L359.75 215.07 L359.95 215.12 L360.15 215.17 L360.35 215.22 L360.55 215.26 L360.75 215.31 L360.95 215.36 L361.15 215.41 L361.35 215.46 L361.55 215.50 L361.75 215.55 L361.95 215.59 L362.15 215.64 L362.35 215.68 L362.55 215.72 L362.75 215.77 L362.95 215.81 L363.15 215.85 L363.35 215.89 L363.55 215.93 L363.75 215.97 L363.95 216.01 L364.15 216.05 L364.35 216.08 L364.55 216.12 L364.75 216.16 L364.95 216.19 L365.15 216.23 L365.35 216.26 L365.55 216.29 L365.75 216.33 L365.95 216.36 L366.15 216.39 L366.35 216.42 L366.55 216.46 L366.75 216.49 L366.95 216.52 L367.15 216.55 L367.35 216.58 L367.55 216.61 L367.75 216.64 L367.95 216.67 L368.15 216.70 L368.35 216.73 L368.55 216.76 L368.75 216.79 L368.95 216.81 L369.15 216.84 L369.35 216.87 L369.55 216.90 L369.75 216.93 L369.95 216.95 L370.15 216.98 L370.35 217.01 L370.55 217.03 L370.75 217.06 L370.95 217.09 L371.15 217.11 L371.35 217.14 L371.55 217.16 L371.75 217.19 L371.95 217.21 L372.15 217.24 L372.35 217.26 L372.55 217.29 L372.75 217.31 L372.95 217.34 L373.15 217.36 L373.35 217.39 L373.55 217.41 L373.75 217.43 L373.95 217.46 L374.15 217.48 L374.35 217.51 L374.55 217.53 L374.75 217.55 L374.95 217.57 L375.15 217.60 L375.35 217.62 L375.55 217.64 L375.75 217.67 L375.95 217.69 L376.15 217.71 L376.35 217.73 L376.55 217.76 L376.75 217.78 L376.95 217.80 L377.15 217.82 L377.35 217.84 L377.55 217.87 L377.75 217.89 L377.95 217.91 L378.15 217.93 L378.35 217.95 L378.55 217.98 L378.75 218.00 L378.95 218.02 L379.15 218.04 L379.35 218.06 L379.55 218.09 L379.75 218.11 L379.95 218.13 L380.15 218.15 L380.35 218.17 L380.55 218.20 L380.75 218.22 L380.95 218.24 L381.15 218.26 L381.35 218.28 L381.55 218.31 L381.75 218.33 L381.95 218.35 L382.15 218.37 L382.35 218.39 L382.55 218.42 L382.75 218.44 L382.95 218.46 L383.15 218.49 L383.35 218.51 L383.55 218.53 L383.75 218.55 L383.95 218.58 L384.15 218.60 L384.35 218.62 L384.55 218.65 L384.75 218.67 L384.95 218.69 L385.15 218.72 L385.35 218.74 L385.55 218.77 L385.75 218.79 L385.95 218.81 L386.15 218.84 L386.35 218.86 L386.55 218.88 L386.75 218.91 L386.95 218.93 L387.15 218.95 L387.35 218.98 L387.55 219.00 L387.75 219.02 L387.95 219.05 L388.15 219.07 L388.35 219.09 L388.55 219.11 L388.75 219.14 L388.95 219.16 L389.15 219.18 L389.35 219.21 L389.55 219.23 L389.75 219.25 L389.95 219.27 L390.15 219.30 L390.35 219.32 L390.55 219.34 L390.75 219.36 L390.95 219.39 L391.15 219.41 L391.35 219.43 L391.55 219.46 L391.75 219.48 L391.95 219.50 L392.15 219.52 L392.35 219.55 L392.55 219.57 L392.75 219.59 L392.95 219.61 L393.15 219.64 L393.35 219.66 L393.55 219.68 L393.75 219.70 L393.95 219.73 L394.15 219.75 L394.35 219.77 L394.55 219.79 L394.75 219.82 L394.95 219.84 L395.15 219.86 L395.35 219.88 L395.55 219.91 L395.75 219.93 L395.95 219.95 L396.15 219.97 L396.35 220.00 L396.55 220.02 L396.75 220.04 L396.95 220.07 L397.15 220.09 L397.35 220.11 L397.55 220.13 L397.75 220.16 L397.95 220.18 L398.15 220.20 L398.35 220.23 L398.55 220.25 L398.75 220.27 L398.95 220.29 L399.15 220.32 L399.35 220.34 L399.55 220.36 L399.75 220.39 L399.95 220.41 L400.15 220.43 L400.35 220.46 L400.55 220.48 L400.75 220.50 L400.95 220.53 L401.15 220.55 L401.35 220.57 L401.55 220.60 L401.75 220.62 L401.95 220.64 L402.15 220.67 L402.35 220.69 L402.55 220.71 L402.75 220.74 L402.95 220.76 L403.15 220.78 L403.35 220.81 L403.55 220.83 L403.75 220.85 L403.95 220.88 L404.15 220.90 L404.35 220.92 L404.55 220.95 L404.75 220.97 L404.95 220.99 L405.00 221.00" stroke="#00c000" stroke-width="3.1" stroke-dasharray="9.15 3.05 3.05 3.05" stroke-dashoffset="11.42"/>
<path d="M73.00 189.50 L73.20 189.53 L73.40 189.56 L73.60 189.59 L73.80 189.62 L74.00 189.64 L74.20 189.67 L74.40 189.70 L74.60 189.73 L74.80 189.76 L75.00 189.79 L75.20 189.82 L75.40 189.85 L75.60 189.88 L75.80 189.91 L76.00 189.93 L76.20 189.96 L76.40 189.99 L76.60 190.02 L76.80 190.05 L77.00 190.08 L77.20 190.11 L77.40 190.14 L77.60 190.17 L77.80 190.19 L78.00 190.22 L78.20 190.25 L78.40 190.28 L78.60 190.31 L78.80 190.34 L79.00 190.37 L79.20 190.40 L79.40 190.43 L79.60 190.45 L79.80 190.48 L80.00 190.51 L80.20 190.54 L80.40 190.57 L80.60 190.60 L80.80 190.63 L81.00 190.66 L81.20 190.69 L81.40 190.72 L81.60 190.74 L81.80 190.77 L82.00 190.80 L82.20 190.83 L82.40 190.86 L82.60 190.89 L82.80 190.92 L83.00 190.95 L83.20 190.98 L83.40 191.00 L83.60 191.03 L83.80 191.06 L84.00 191.09 L84.20 191.12 L84.40 191.15 L84.60 191.18 L84.80 191.21 L85.00 191.24 L85.20 191.27 L85.40 191.29 L85.60 191.32 L85.80 191.35 L86.00 191.38 L86.20 191.41 L86.40 191.44 L86.60 191.47 L86.80 191.50 L87.00 191.53 L87.20 191.55 L87.40 191.58 L87.60 191.61 L87.80 191.64 L88.00 191.67 L88.20 191.70 L88.40 191.73 L88.60 191.76 L88.80 191.79 L89.00 191.82 L89.20 191.84 L89.40 191.87 L89.60 191.90 L89.80 191.93 L90.00 191.96 L90.20 191.99 L90.40 192.02 L90.60 192.05 L90.80 192.08 L91.00 192.10 L91.20 192.13 L91.40 192.16 L91.60 192.19 L91.80 192.22 L92.00 192.25 L92.20 192.28 L92.40 192.31 L92.60 192.34 L92.80 192.36 L93.00 192.39 L93.20 192.42 L93.40 192.45 L93.60 192.48 L93.80 192.51 L94.00 192.54 L94.20 192.57 L94.40 192.60 L94.60 192.63 L94.80 192.65 L95.00 192.68 L95.20 192.71 L95.40 192.74 L95.60 192.77 L95.80 192.80 L96.00 192.83 L96.20 192.86 L96.40 192.89 L96.60 192.91 L96.80 192.94 L97.00 192.97 L97.20 193.00 L97.40 193.03 L97.60 193.06 L97.80 193.09 L98.00 193.12 L98.20 193.15 L98.40 193.18 L98.60 193.20 L98.80 193.23 L99.00 193.26 L99.20 193.29 L99.40 193.32 L99.60 193.35 L99.80 193.38 L100.00 193.41 L100.20 193.44 L100.40 193.46 L100.60 193.49 L100.80 193.52 L101.00 193.55 L101.20 193.58 L101.40 193.61 L101.60 193.64 L101.80 193.67 L102.00 193.70 L102.20 193.72 L102.40 193.75 L102.60 193.78 L102.80 193.81 L103.00 193.84 L103.20 193.87 L103.40 193.90 L103.60 193.93 L103.80 193.96 L104.00 193.99 L104.20 194.01 L104.40 194.04 L104.60 194.07 L104.80 194.10 L105.00 194.13 L105.20 194.16 L105.40 194.19 L105.60 194.22 L105.80 194.25 L106.00 194.27 L106.20 194.30 L106.40 194.33 L106.60 194.36 L106.80 194.39 L107.00 194.42 L107.20 194.45 L107.40 194.48 L107.60 194.51 L107.80 194.54 L108.00 194.56 L108.20 194.59 L108.40 194.62 L108.60 194.65 L108.80 194.68 L109.00 194.71 L109.20 194.74 L109.40 194.77 L109.60 194.80 L109.80 194.82 L110.00 194.85 L110.20 194.88 L110.40 194.91 L110.60 194.94 L110.80 194.97 L111.00 195.00 L111.20 195.03 L111.40 195.06 L111.60 195.08 L111.80 195.11 L112.00 195.14 L112.20 195.17 L112.40 195.20 L112.60 195.23 L112.80 195.26 L113.00 195.29 L113.20 195.32 L113.40 195.35 L113.60 195.37 L113.80 195.40 L114.00 195.43 L114.20 195.46 L114.40 195.49 L114.60 195.52 L114.80 195.55 L115.00 195.58 L115.20 195.61 L115.40 195.63 L115.60 195.66 L115.80 195.69 L116.00 195.72 L116.20 195.75 L116.40 195.78 L116.60 195.81 L116.80 195.84 L117.00 195.87 L117.20 195.90 L117.40 195.92 L117.60 195.95 L117.80 195.98 L118.00 196.01 L118.20 196.04 L118.40 196.07 L118.60 196.10 L118.80 196.13 L119.00 196.16 L119.20 196.18 L119.40 196.21 L119.60 196.24 L119.80 196.27 L120.00 196.30 L120.20 196.33 L120.40 196.36 L120.60 196.39 L120.80 196.42 L121.00 196.45 L121.20 196.47 L121.40 196.50 L121.60 196.53 L121.80 196.56 L122.00 196.59 L122.20 196.62 L122.40 196.65 L122.60 196.68 L122.80 196.71 L123.00 196.73 L123.20 196.76 L123.40 196.79 L123.60 196.82 L123.80 196.85 L124.00 196.88 L124.20 196.91 L124.40 196.94 L124.60 196.97 L124.80 196.99 L125.00 197.02 L125.20 197.05 L125.40 197.08 L125.60 197.11 L125.80 197.14 L126.00 197.17 L126.20 197.20 L126.40 197.23 L126.60 197.26 L126.80 197.28 L127.00 197.31 L127.20 197.34 L127.40 197.37 L127.60 197.40 L128.30 170.80 L128.50 170.51 L128.70 170.21 L128.90 169.90 L129.10 169.57 L129.30 169.20 L129.50 168.80 L129.70 168.37 L129.90 167.93 L130.10 167.47 L130.30 166.99 L130.50 166.51 L130.70 166.02 L130.90 165.53 L131.10 165.04 L131.30 164.57 L131.50 164.10 L131.70 163.65 L131.90 163.21 L132.10 162.79 L132.30 162.40 L132.50 162.01 L132.70 161.63 L132.90 161.25 L133.10 160.88 L133.30 160.49 L133.50 160.10 L133.70 159.69 L133.90 159.26 L134.10 158.82 L134.30 158.35 L134.50 157.85 L134.70 157.32 L134.90 156.75 L135.10 156.16 L135.30 155.52 L135.50 154.85 L135.70 154.15 L135.90 153.43 L136.10 152.69 L136.30 151.93 L136.50 151.16 L136.70 150.38 L136.90 149.60 L137.10 148.83 L137.30 148.09 L137.50 147.36 L137.70 146.62 L137.90 145.85 L138.10 145.05 L138.30 144.20 L138.50 143.29 L138.70 142.31 L138.90 141.26 L139.10 140.18 L139.30 139.06 L139.50 137.91 L139.70 136.73 L139.90 135.51 L140.10 134.26 L140.30 132.99 L140.50 131.68 L140.70 130.35 L140.90 128.99 L141.10 127.60 L141.30 126.18 L141.50 124.72 L141.70 123.23 L141.90 121.70 L142.10 120.13 L142.30 118.53 L142.50 116.90 L142.70 115.22 L142.90 113.51 L143.10 111.77 L143.30 109.98 L143.50 108.16 L143.70 106.31 L143.90 104.42 L144.10 102.49 L144.30 100.54 L144.50 98.54 L144.70 96.52 L144.90 94.47 L145.10 92.38 L145.30 90.27 L145.50 88.14 L145.70 85.98 L145.90 83.81 L146.10 81.62 L146.30 79.42 L146.50 77.22 L146.70 75.01 L146.90 72.82 L147.10 70.64 L147.30 68.49 L147.50 66.38 L147.70 64.31 L147.90 62.31 L148.10 60.38 L148.30 58.55 L148.50 56.83 L148.70 55.23 L148.90 53.78 L150.20 51.60 L151.50 58.70 L151.70 61.38 L151.90 64.19 L152.10 67.07 L152.30 69.99 L152.50 72.90 L152.70 75.78 L152.90 78.61 L153.10 81.36 L153.30 84.02 L153.50 86.59 L153.70 89.05 L153.90 91.41 L154.10 93.65 L154.30 95.78 L154.50 97.80 L154.70 99.70 L154.90 101.48 L155.10 103.15 L155.30 104.71 L155.50 106.15 L155.70 107.48 L155.90 108.70 L156.10 109.81 L156.30 110.81 L156.50 111.70 L156.70 112.48 L156.90 113.16 L157.10 113.73 L157.30 114.19 L157.50 114.55 L157.70 114.81 L157.90 114.97 L158.10 115.02 L158.30 114.98 L158.50 114.83 L158.70 114.59 L158.90 114.25 L159.10 113.81 L159.30 113.27 L159.50 112.65 L159.70 111.92 L159.90 111.11 L160.10 110.20 L160.30 109.21 L160.50 108.13 L160.70 106.96 L160.90 105.71 L161.10 104.38 L161.30 102.97 L161.50 101.49 L161.70 99.94 L161.90 98.32 L162.10 96.64 L162.30 94.91 L162.50 93.14 L162.70 91.32 L162.90 89.49 L163.10 87.64 L163.30 85.78 L163.50 83.95 L163.70 82.15 L163.90 80.41 L164.10 78.74 L164.30 77.17 L164.50 75.73 L165.75 70.88 L165.85 70.88 L167.10 76.30 L167.30 77.87 L167.50 79.56 L167.70 81.38 L167.90 83.29 L168.10 85.27 L168.30 87.30 L168.50 89.37 L168.70 91.47 L168.90 93.58 L169.10 95.69 L169.30 97.79 L169.50 99.88 L169.70 101.95 L169.90 103.99 L170.10 106.00 L170.30 107.99 L170.50 109.94 L170.70 111.85 L170.90 113.72 L171.10 115.56 L171.30 117.36 L171.50 119.13 L171.70 120.85 L171.90 122.54 L172.10 124.18 L172.30 125.80 L172.50 127.37 L172.70 128.91 L172.90 130.42 L173.10 131.89 L173.30 133.33 L173.50 134.73 L173.70 136.10 L173.90 137.45 L174.10 138.76 L174.30 140.04 L174.50 141.30 L174.70 142.52 L174.90 143.72 L175.10 144.89 L175.30 146.04 L175.50 147.16 L175.70 148.26 L175.90 149.34 L176.10 150.39 L176.30 151.42 L176.50 152.43 L176.70 153.41 L176.90 154.38 L177.10 155.32 L177.30 156.25 L177.50 157.16 L177.70 158.04 L177.90 158.91 L178.10 159.76 L178.30 160.60 L178.50 161.42 L178.70 162.22 L178.90 163.00 L179.10 163.75 L179.30 164.45 L179.50 165.10 L179.70 165.70 L179.90 166.26 L180.10 166.78 L180.30 167.25 L180.50 167.69 L180.70 168.10 L180.90 168.47 L181.10 168.83 L181.30 169.16 L181.50 169.48 L181.70 169.80 L181.90 170.12 L182.10 170.46 L182.30 170.81 L182.50 171.19 L182.70 171.61 L182.90 172.02 L183.10 172.43 L183.30 172.82 L183.50 173.21 L183.70 173.59 L183.90 173.96 L184.10 174.33 L184.30 174.69 L184.50 175.04 L184.70 175.39 L184.90 175.72 L185.10 176.06 L185.30 176.38 L185.50 176.71 L185.70 177.02 L185.90 177.33 L186.10 177.64 L186.30 177.94 L186.50 178.24 L186.70 178.53 L186.90 178.82 L187.10 179.10 L187.30 179.38 L187.50 179.66 L187.70 179.93 L187.90 180.20 L188.10 180.47 L188.30 180.73 L188.50 180.99 L188.70 181.25 L188.90 181.50 L189.10 181.75 L189.30 182.00 L189.50 182.24 L189.70 182.47 L189.90 182.71 L190.10 182.93 L190.30 183.16 L190.50 183.38 L190.70 183.60 L190.90 183.81 L191.10 184.02 L191.30 184.23 L191.50 184.44 L191.70 184.64 L191.90 184.84 L192.10 185.03 L192.30 185.23 L192.50 185.42 L192.70 185.60 L192.90 185.79 L193.10 185.97 L193.30 186.16 L193.50 186.34 L193.70 186.51 L193.90 186.69 L194.10 186.86 L194.30 187.04 L194.50 187.21 L194.70 187.38 L194.90 187.55 L195.10 187.72 L195.30 187.88 L195.50 188.05 L195.70 188.21 L195.90 188.38 L196.10 188.54 L196.30 188.70 L196.50 188.86 L196.70 189.01 L196.90 189.17 L197.10 189.32 L197.30 189.48 L197.50 189.63 L197.70 189.78 L197.90 189.93 L198.10 190.08 L198.30 190.22 L198.50 190.37 L198.70 190.51 L198.90 190.65 L199.10 190.79 L199.30 190.93 L199.50 191.07 L199.70 191.20 L199.90 191.34 L200.10 191.47 L200.30 191.60 L200.50 191.73 L200.70 191.86 L200.90 191.99 L201.10 192.11 L201.30 192.24 L201.50 192.37 L201.70 192.49 L201.90 192.62 L202.10 192.74 L202.30 192.87 L202.50 192.99 L202.70 193.11 L202.90 193.23 L203.10 193.35 L203.30 193.47 L203.50 193.59 L203.70 193.71 L203.90 193.83 L204.10 193.95 L204.30 194.06 L204.50 194.18 L204.70 194.29 L204.90 194.40 L205.10 194.51 L205.30 194.62 L205.50 194.73 L205.70 194.84 L205.90 194.95 L206.10 195.05 L206.30 195.16 L206.50 195.26 L206.70 195.36 L206.90 195.46 L207.10 195.56 L207.30 195.66 L207.50 195.75 L207.70 195.85 L207.90 195.94 L208.10 196.03 L208.30 196.12 L208.50 196.21 L208.70 196.30 L208.90 196.39 L209.10 196.48 L209.30 196.57 L209.50 196.65 L209.70 196.74 L209.90 196.82 L210.10 196.91 L210.30 196.99 L210.50 197.07 L210.70 197.15 L210.90 197.23 L211.10 197.31 L211.30 197.39 L211.50 197.47 L211.70 197.55 L211.90 197.63 L212.10 197.70 L212.30 197.78 L212.50 197.85 L212.70 197.92 L212.90 198.00 L213.10 198.07 L213.30 198.14 L213.50 198.21 L213.70 198.28 L213.90 198.35 L214.10 198.42 L214.30 198.49 L214.50 198.56 L214.70 198.62 L214.90 198.69 L215.10 198.75 L215.30 198.82 L215.50 198.88 L215.70 198.94 L215.90 199.01 L216.10 199.07 L216.30 199.13 L216.50 199.19 L216.70 199.25 L216.90 199.31 L217.10 199.37 L217.30 199.43 L217.50 199.48 L217.70 199.54 L217.90 199.60 L218.10 199.65 L218.30 199.71 L218.50 199.76 L218.70 199.82 L218.90 199.87 L219.10 199.92 L219.30 199.97 L219.50 200.03 L219.70 200.08 L219.90 200.13 L220.10 200.18 L220.30 200.22 L220.50 200.27 L220.70 200.32 L220.90 200.37 L221.10 200.41 L221.30 200.46 L221.50 200.50 L221.70 200.54 L221.90 200.59 L222.10 200.63 L222.30 200.67 L222.50 200.71 L222.70 200.75 L222.90 200.79 L223.10 200.83 L223.30 200.87 L223.50 200.90 L223.70 200.94 L223.90 200.97 L224.10 201.01 L224.30 201.05 L224.50 201.08 L224.70 201.11 L224.90 201.15 L225.10 201.18 L225.30 201.21 L225.50 201.24 L225.70 201.27 L225.90 201.30 L226.10 201.33 L226.30 201.36 L226.50 201.39 L226.70 201.42 L226.90 201.45 L227.10 201.47 L227.30 201.50 L227.50 201.53 L227.70 201.55 L227.90 201.58 L228.10 201.61 L228.30 201.63 L228.50 201.66 L228.70 201.68 L228.90 201.70 L229.10 201.73 L229.30 201.75 L229.50 201.77 L229.70 201.79 L229.90 201.82 L230.10 201.84 L230.30 201.86 L230.50 201.88 L230.70 201.90 L230.90 201.92 L231.10 201.94 L231.30 201.96 L231.50 201.98 L231.70 202.00 L231.90 202.02 L232.10 202.04 L232.30 202.06 L232.50 202.07 L232.70 202.09 L232.90 202.11 L233.10 202.13 L233.30 202.15 L233.50 202.17 L233.70 202.19 L233.90 202.21 L234.10 202.23 L234.30 202.25 L234.50 202.28 L234.70 202.30 L234.90 202.32 L235.10 202.34 L235.30 202.36 L235.50 202.38 L235.70 202.40 L235.90 202.42 L236.10 202.44 L236.30 202.45 L236.50 202.47 L236.70 202.48 L236.90 202.49 L237.10 202.49 L237.30 202.50 L237.50 202.50 L237.70 202.50 L237.90 202.50 L238.10 202.50 L238.30 202.49 L238.50 202.48 L238.70 202.47 L238.90 202.46 L239.10 202.45 L239.30 202.44 L239.50 202.42 L239.70 202.40 L239.90 202.38 L240.10 202.36 L240.30 202.34 L240.50 202.32 L240.70 202.29 L240.90 202.26 L241.10 202.23 L241.30 202.20 L241.50 202.16 L241.70 202.13 L241.90 202.09 L242.10 202.04 L242.30 202.00 L242.50 201.95 L242.70 201.90 L242.90 201.85 L243.10 201.79 L243.30 201.73 L243.50 201.67 L243.70 201.60 L243.90 201.53 L244.10 201.46 L244.30 201.39 L244.50 201.31 L244.70 201.22 L244.90 201.14 L245.10 201.04 L245.30 200.95 L245.50 200.85 L245.70 200.75 L245.90 200.64 L246.10 200.53 L246.30 200.41 L246.50 200.29 L246.70 200.17 L246.90 200.04 L247.10 199.90 L247.30 199.76 L247.50 199.62 L247.70 199.47 L247.90 199.31 L248.10 199.15 L248.30 198.98 L248.50 198.81 L248.70 198.62 L248.90 198.44 L249.10 198.24 L249.30 198.04 L249.50 197.83 L249.70 197.61 L249.90 197.39 L250.10 197.15 L250.30 196.91 L250.50 196.65 L250.70 196.39 L250.90 196.12 L251.10 195.83 L251.30 195.54 L251.50 195.23 L251.70 194.91 L251.90 194.58 L252.10 194.23 L252.30 193.88 L252.50 193.50 L252.70 193.11 L252.90 192.71 L253.10 192.29 L253.30 191.85 L253.50 191.39 L253.70 190.92 L253.90 190.42 L254.10 189.91 L254.30 189.37 L254.50 188.81 L254.70 188.22 L254.90 187.61 L255.10 186.97 L255.30 186.31 L255.50 185.61 L255.70 184.89 L255.90 184.13 L256.10 183.34 L256.30 182.51 L256.50 181.64 L256.70 180.74 L256.90 179.79 L257.10 178.81 L257.30 177.77 L257.50 176.69 L257.70 175.56 L257.90 174.38 L258.10 173.14 L258.30 171.84 L258.50 170.49 L258.70 169.07 L258.90 167.58 L259.10 166.03 L259.30 164.41 L259.50 162.72 L259.70 160.95 L259.90 159.11 L260.10 157.18 L260.30 155.18 L260.50 153.10 L260.70 150.93 L260.90 148.69 L261.10 146.37 L261.30 143.99 L261.50 141.54 L261.70 139.04 L261.90 136.50 L262.10 133.94 L262.30 131.38 L262.50 128.86 L262.70 126.40 L262.90 124.05 L263.00 122.92 L264.25 114.38 L264.35 114.38 L265.60 123.87 L265.70 125.10 L265.90 127.67 L266.10 130.33 L266.30 133.05 L266.50 135.78 L266.70 138.50 L266.90 141.18 L267.10 143.80 L267.30 146.35 L267.50 148.83 L267.70 151.22 L267.90 153.53 L268.10 155.74 L268.30 157.87 L268.50 159.90 L268.70 161.85 L268.90 163.72 L269.10 165.50 L269.30 167.20 L269.50 168.83 L269.70 170.38 L269.90 171.86 L270.10 173.27 L270.30 174.62 L270.50 175.90 L270.70 177.13 L270.90 178.30 L271.10 179.42 L271.30 180.49 L271.50 181.52 L271.70 182.49 L271.90 183.43 L272.10 184.32 L272.30 185.17 L272.50 185.99 L272.70 186.77 L272.90 187.52 L273.10 188.24 L273.30 188.92 L273.50 189.58 L273.70 190.21 L273.90 190.82 L274.10 191.40 L274.30 191.96 L274.50 192.50 L274.70 193.01 L274.90 193.51 L275.10 193.99 L275.30 194.45 L275.50 194.89 L275.70 195.31 L275.90 195.72 L276.10 196.12 L276.30 196.50 L276.50 196.87 L276.70 197.22 L276.90 197.56 L277.10 197.89 L277.30 198.21 L277.50 198.52 L277.70 198.82 L277.90 199.11 L278.10 199.39 L278.30 199.66 L278.50 199.92 L278.70 200.18 L278.90 200.42 L279.10 200.66 L279.30 200.89 L279.50 201.12 L279.70 201.33 L279.90 201.55 L280.10 201.75 L280.30 201.95 L280.50 202.15 L280.70 202.33 L280.90 202.52 L281.10 202.70 L281.30 202.87 L281.50 203.04 L281.70 203.21 L281.90 203.37 L282.10 203.52 L282.30 203.68 L282.50 203.83 L282.70 203.97 L282.90 204.12 L283.10 204.26 L283.30 204.40 L283.50 204.54 L283.70 204.68 L283.90 204.81 L284.10 204.95 L284.30 205.08 L284.50 205.21 L284.70 205.34 L284.90 205.47 L285.10 205.60 L285.30 205.72 L285.50 205.85 L285.70 205.97 L285.90 206.09 L286.10 206.21 L286.30 206.32 L286.50 206.44 L286.70 206.55 L286.90 206.66 L287.10 206.77 L287.30 206.88 L287.50 206.98 L287.70 207.08 L287.90 207.18 L288.10 207.28 L288.30 207.38 L288.50 207.47 L288.70 207.56 L288.90 207.65 L289.10 207.74 L289.30 207.82 L289.50 207.90 L289.70 207.98 L289.90 208.06 L290.10 208.14 L290.30 208.22 L290.50 208.29 L290.70 208.37 L290.90 208.44 L291.10 208.51 L291.30 208.58 L291.50 208.65 L291.70 208.72 L291.90 208.79 L292.10 208.86 L292.30 208.92 L292.50 208.99 L292.70 209.05 L292.90 209.11 L293.10 209.18 L293.30 209.24 L293.50 209.30 L293.70 209.36 L293.90 209.42 L294.10 209.48 L294.30 209.54 L294.50 209.60 L294.70 209.66 L294.90 209.71 L295.10 209.77 L295.30 209.83 L295.50 209.89 L295.70 209.94 L295.90 210.00 L296.10 210.05 L296.30 210.11 L296.50 210.16 L296.70 210.22 L296.90 210.27 L297.10 210.32 L297.30 210.38 L297.50 210.43 L297.70 210.48 L297.90 210.53 L298.10 210.58 L298.30 210.63 L298.50 210.68 L298.70 210.73 L298.90 210.78 L299.10 210.83 L299.30 210.88 L299.50 210.93 L299.70 210.98 L299.90 211.03 L300.10 211.08 L300.30 211.12 L300.50 211.17 L300.70 211.22 L300.90 211.26 L301.10 211.31 L301.30 211.35 L301.50 211.40 L301.70 211.44 L301.90 211.49 L302.10 211.53 L302.30 211.58 L302.50 211.62 L302.70 211.66 L302.90 211.71 L303.10 211.75 L303.30 211.79 L303.50 211.83 L303.70 211.87 L303.90 211.92 L304.10 211.96 L304.30 212.00 L304.50 212.04 L304.70 212.08 L304.90 212.12 L305.10 212.16 L305.30 212.20 L305.50 212.24 L305.70 212.28 L305.90 212.32 L306.10 212.36 L306.30 212.40 L306.50 212.44 L306.70 212.48 L306.90 212.52 L307.10 212.56 L307.30 212.60 L307.50 212.64 L307.70 212.68 L307.90 212.72 L308.10 212.76 L308.30 212.80 L308.50 212.84 L308.70 212.88 L308.90 212.92 L309.10 212.96 L309.30 213.01 L309.50 213.05 L309.70 213.09 L309.90 213.13 L310.10 213.17 L310.30 213.21 L310.50 213.25 L310.70 213.30 L310.90 213.34 L311.10 213.38 L311.20 213.40 L311.20 208.80 L311.40 208.84 L311.60 208.89 L311.80 208.93 L312.00 208.98 L312.20 209.02 L312.40 209.07 L312.60 209.11 L312.80 209.15 L313.00 209.20 L313.20 209.24 L313.40 209.28 L313.60 209.32 L313.80 209.37 L314.00 209.41 L314.20 209.45 L314.40 209.49 L314.60 209.53 L314.80 209.57 L315.00 209.61 L315.20 209.65 L315.40 209.69 L315.60 209.74 L315.80 209.78 L316.00 209.81 L316.20 209.85 L316.40 209.89 L316.60 209.93 L316.80 209.97 L317.00 210.01 L317.20 210.05 L317.40 210.09 L317.60 210.12 L317.80 210.16 L318.00 210.20 L318.20 210.24 L318.40 210.27 L318.60 210.31 L318.80 210.35 L319.00 210.38 L319.20 210.42 L319.40 210.45 L319.60 210.49 L319.80 210.52 L320.00 210.56 L320.20 210.59 L320.40 210.63 L320.60 210.66 L320.80 210.70 L321.00 210.73 L321.20 210.76 L321.40 210.80 L321.60 210.83 L321.80 210.87 L322.00 210.90 L322.20 210.93 L322.40 210.97 L322.60 211.00 L322.80 211.03 L323.00 211.07 L323.20 211.10 L323.40 211.13 L323.60 211.17 L323.80 211.20 L324.00 211.23 L324.20 211.27 L324.40 211.30 L324.60 211.33 L324.80 211.37 L325.00 211.40 L325.20 211.43 L325.40 211.47 L325.60 211.50 L325.80 211.54 L326.00 211.57 L326.20 211.60 L326.40 211.64 L326.60 211.67 L326.80 211.71 L327.00 211.74 L327.20 211.77 L327.40 211.81 L327.60 211.84 L327.80 211.88 L328.00 211.91 L328.20 211.95 L328.40 211.98 L328.60 212.01 L328.80 212.05 L329.00 212.08 L329.20 212.12 L329.40 212.15 L329.60 212.19 L329.80 212.22 L330.00 212.25 L330.20 212.29 L330.40 212.32 L330.60 212.36 L330.80 212.39 L331.00 212.42 L331.20 212.46 L331.40 212.49 L331.60 212.53 L331.80 212.56 L332.00 212.59 L332.20 212.63 L332.40 212.66 L332.60 212.70 L332.80 212.73 L333.00 212.76 L333.20 212.80 L333.40 212.83 L333.60 212.86 L333.80 212.90 L334.00 212.93 L334.20 212.96 L334.40 213.00 L334.60 213.03 L334.80 213.06 L335.00 213.10 L335.20 213.13 L335.40 213.16 L335.60 213.20 L335.80 213.23 L336.00 213.26 L336.20 213.30 L336.40 213.33 L336.60 213.36 L336.80 213.39 L337.00 213.43 L337.20 213.46 L337.40 213.49 L337.60 213.52 L337.80 213.55 L338.00 213.59 L338.20 213.62 L338.40 213.65 L338.60 213.68 L338.80 213.71 L339.00 213.74 L339.20 213.78 L339.40 213.81 L339.60 213.84 L339.80 213.87 L340.00 213.90 L340.20 213.93 L340.40 213.96 L340.60 213.99 L340.80 214.02 L341.00 214.05 L341.20 214.08 L341.40 214.11 L341.60 214.14 L341.80 214.17 L342.00 214.20 L342.20 214.23 L342.40 214.26 L342.60 214.29 L342.80 214.32 L343.00 214.35 L343.20 214.38 L343.40 214.41 L343.60 214.44 L343.80 214.47 L344.00 214.50 L344.20 214.53 L344.40 214.56 L344.60 214.59 L344.80 214.62 L345.00 214.65 L345.20 214.68 L345.40 214.70 L345.60 214.73 L345.80 214.76 L346.00 214.79 L346.20 214.82 L346.40 214.85 L346.60 214.88 L346.80 214.91 L347.00 214.93 L347.20 214.96 L347.40 214.99 L347.60 215.02 L347.80 215.05 L348.00 215.08 L348.20 215.10 L348.40 215.13 L348.60 215.16 L348.80 215.19 L349.00 215.22 L349.20 215.25 L349.40 215.27 L349.60 215.30 L349.80 215.33 L350.00 215.36 L350.20 215.39 L350.40 215.42 L350.60 215.44 L350.80 215.47 L351.00 215.50 L351.20 215.53 L351.40 215.56 L351.60 215.58 L351.80 215.61 L352.00 215.64 L352.20 215.67 L352.40 215.70 L352.60 215.73 L352.80 215.75 L353.00 215.78 L353.20 215.81 L353.40 215.84 L353.60 215.87 L353.80 215.90 L354.00 215.93 L354.20 215.95 L354.40 215.98 L354.60 216.01 L354.80 216.04 L355.00 216.07 L355.20 216.10 L355.40 216.13 L355.60 216.15 L355.80 216.18 L356.00 216.21 L356.20 216.24 L356.40 216.27 L356.60 216.30 L356.80 216.32 L357.00 216.35 L357.20 216.38 L357.40 216.41 L357.60 216.44 L357.80 216.46 L358.00 216.49 L358.20 216.52 L358.40 216.55 L358.60 216.58 L358.80 216.60 L359.00 216.63 L359.20 216.66 L359.40 216.69 L359.60 216.71 L359.80 216.74 L360.00 216.77 L360.20 216.79 L360.40 216.82 L360.60 216.85 L360.80 216.87 L361.00 216.90 L361.20 216.93 L361.40 216.95 L361.60 216.98 L361.80 217.00 L362.00 217.03 L362.20 217.06 L362.40 217.08 L362.60 217.11 L362.80 217.13 L363.00 217.16 L363.20 217.18 L363.40 217.21 L363.60 217.23 L363.80 217.26 L364.00 217.28 L364.20 217.31 L364.40 217.33 L364.60 217.35 L364.80 217.38 L365.00 217.40 L365.20 217.42 L365.40 217.45 L365.60 217.47 L365.80 217.49 L366.00 217.52 L366.20 217.54 L366.40 217.56 L366.60 217.58 L366.80 217.61 L367.00 217.63 L367.20 217.65 L367.40 217.67 L367.60 217.70 L367.80 217.72 L368.00 217.74 L368.20 217.76 L368.40 217.79 L368.60 217.81 L368.80 217.83 L369.00 217.85 L369.20 217.87 L369.40 217.90 L369.60 217.92 L369.80 217.94 L370.00 217.96 L370.20 217.98 L370.40 218.01 L370.60 218.03 L370.80 218.05 L371.00 218.07 L371.20 218.09 L371.40 218.11 L371.60 218.13 L371.80 218.15 L372.00 218.18 L372.20 218.20 L372.40 218.22 L372.60 218.24 L372.80 218.26 L373.00 218.28 L373.20 218.30 L373.40 218.32 L373.60 218.34 L373.80 218.36 L374.00 218.38 L374.20 218.41 L374.40 218.43 L374.60 218.45 L374.80 218.47 L375.00 218.49 L375.20 218.51 L375.40 218.53 L375.60 218.55 L375.80 218.57 L376.00 218.59 L376.20 218.61 L376.40 218.63 L376.60 218.65 L376.80 218.67 L377.00 218.69 L377.20 218.71 L377.40 218.73 L377.60 218.75 L377.80 218.77 L378.00 218.79 L378.20 218.81 L378.40 218.83 L378.60 218.85 L378.80 218.87 L379.00 218.88 L379.20 218.90 L379.40 218.92 L379.60 218.94 L379.80 218.96 L380.00 218.98 L380.20 219.00 L380.40 219.02 L380.60 219.04 L380.80 219.06 L381.00 219.08 L381.20 219.10 L381.40 219.12 L381.60 219.13 L381.80 219.15 L382.00 219.17 L382.20 219.19 L382.40 219.21 L382.60 219.23 L382.80 219.25 L383.00 219.27 L383.20 219.29 L383.40 219.30 L383.60 219.32 L383.80 219.34 L384.00 219.36 L384.20 219.38 L384.40 219.40 L384.60 219.42 L384.80 219.43 L385.00 219.45 L385.20 219.47 L385.40 219.49 L385.60 219.51 L385.80 219.53 L386.00 219.54 L386.20 219.56 L386.40 219.58 L386.60 219.60 L386.80 219.62 L387.00 219.64 L387.20 219.65 L387.40 219.67 L387.60 219.69 L387.80 219.71 L388.00 219.73 L388.20 219.74 L388.40 219.76 L388.60 219.78 L388.80 219.80 L389.00 219.82 L389.20 219.83 L389.40 219.85 L389.60 219.87 L389.80 219.89 L390.00 219.91 L390.20 219.92 L390.40 219.94 L390.60 219.96 L390.80 219.98 L391.00 220.00 L391.20 220.01 L391.40 220.03 L391.60 220.05 L391.80 220.07 L392.00 220.08 L392.20 220.10 L392.40 220.12 L392.60 220.14 L392.80 220.16 L393.00 220.17 L393.20 220.19 L393.40 220.21 L393.60 220.23 L393.80 220.24 L394.00 220.26 L394.20 220.28 L394.40 220.30 L394.60 220.31 L394.80 220.33 L395.00 220.35 L395.20 220.37 L395.40 220.38 L395.60 220.40 L395.80 220.42 L396.00 220.44 L396.20 220.45 L396.40 220.47 L396.60 220.49 L396.80 220.51 L397.00 220.52 L397.20 220.54 L397.40 220.56 L397.60 220.58 L397.80 220.59 L398.00 220.61 L398.20 220.63 L398.40 220.65 L398.60 220.66 L398.80 220.68 L399.00 220.70 L399.20 220.72 L399.40 220.73 L399.60 220.75 L399.80 220.77 L400.00 220.79 L400.20 220.80 L400.40 220.82 L400.60 220.84 L400.80 220.85 L401.00 220.87 L401.20 220.89 L401.40 220.90 L401.60 220.92 L401.80 220.94 L402.00 220.95 L402.20 220.97 L402.40 220.99 L402.60 221.00 L402.80 221.02 L403.00 221.04 L403.20 221.05 L403.40 221.07 L403.60 221.09 L403.80 221.10 L404.00 221.12 L404.20 221.13 L404.40 221.15 L404.60 221.17 L404.80 221.18 L405.00 221.20" stroke="#ff0000" stroke-width="3.15"/>
</g>
<g stroke="#000" stroke-width="1" fill="none">
<path d="M73.00 233.70 v-7.5 M73.00 20.20 v7.5"/>
<path d="M139.40 233.70 v-7.5 M139.40 20.20 v7.5"/>
<path d="M205.80 233.70 v-7.5 M205.80 20.20 v7.5"/>
<path d="M272.20 233.70 v-7.5 M272.20 20.20 v7.5"/>
<path d="M338.60 233.70 v-7.5 M338.60 20.20 v7.5"/>
<path d="M405.00 233.70 v-7.5 M405.00 20.20 v7.5"/>
<path d="M73.00 233.20 h8 M405.00 233.20 h-8"/>
<path d="M73.00 207.34 h4 M405.00 207.34 h-4"/>
<path d="M73.00 192.22 h4 M405.00 192.22 h-4"/>
<path d="M73.00 181.48 h4 M405.00 181.48 h-4"/>
<path d="M73.00 173.16 h4 M405.00 173.16 h-4"/>
<path d="M73.00 166.36 h4 M405.00 166.36 h-4"/>
<path d="M73.00 160.61 h4 M405.00 160.61 h-4"/>
<path d="M73.00 155.62 h4 M405.00 155.62 h-4"/>
<path d="M73.00 151.23 h4 M405.00 151.23 h-4"/>
<path d="M73.00 147.30 h8 M405.00 147.30 h-8"/>
<path d="M73.00 121.44 h4 M405.00 121.44 h-4"/>
<path d="M73.00 106.32 h4 M405.00 106.32 h-4"/>
<path d="M73.00 95.58 h4 M405.00 95.58 h-4"/>
<path d="M73.00 87.26 h4 M405.00 87.26 h-4"/>
<path d="M73.00 80.46 h4 M405.00 80.46 h-4"/>
<path d="M73.00 74.71 h4 M405.00 74.71 h-4"/>
<path d="M73.00 69.72 h4 M405.00 69.72 h-4"/>
<path d="M73.00 65.33 h4 M405.00 65.33 h-4"/>
<path d="M73.00 61.40 h8 M405.00 61.40 h-8"/>
<path d="M73.00 35.54 h4 M405.00 35.54 h-4"/>
<path d="M73.00 20.42 h4 M405.00 20.42 h-4"/>
</g>
<rect x="73.0" y="20.2" width="332.0" height="213.5" fill="none" stroke="#000" stroke-width="1.8"/>
<g>
<text x="75.2" y="256.1" text-anchor="middle">0.95</text>
<text x="141.6" y="256.1" text-anchor="middle">1</text>
<text x="208.0" y="256.1" text-anchor="middle">1.05</text>
<text x="274.4" y="256.1" text-anchor="middle">1.1</text>
<text x="340.8" y="256.1" text-anchor="middle">1.15</text>
<text x="407.2" y="256.1" text-anchor="middle">1.2</text>
<text x="63.6" y="68.9" text-anchor="end">10<tspan dy="-8.5" font-size="13.6">0</tspan></text>
<text x="63.6" y="154.8" text-anchor="end">10<tspan dy="-8.5" font-size="13.6">-1</tspan></text>
<text x="63.6" y="240.7" text-anchor="end">10<tspan dy="-8.5" font-size="13.6">-2</tspan></text>

<text x="239" y="284" text-anchor="middle">s<tspan dx="0.5" dy="-8.5" font-size="13.8">1/2</tspan><tspan dx="-0.3" dy="8.5"> [GeV]</tspan></text>
<text transform="translate(19.8,174.3) rotate(-90)">ImG<tspan dy="5.2" font-size="13.6">V</tspan><tspan dx="-1" dy="-5.2"> [GeV</tspan><tspan dx="-0.5" dy="-8.5" font-size="13.6">2</tspan><tspan dx="-0.5" dy="8.5">]</tspan></text>
<text x="212.9" y="40.9" letter-spacing="-0.75">δm/δm</text>
<text x="262.6" y="45.9" style="font-size:13.6px">vac</text>
<text x="326.7" y="40.9" text-anchor="end">= 0.7</text>
<text x="326.9" y="58.6" text-anchor="end">0.4</text>
<text x="326.7" y="75.5" text-anchor="end">0.26</text>
</g>
<g fill="none">
<path d="M336.6 36.5 H385.2" stroke="#0000ff" stroke-width="3.05" stroke-dasharray="6.1 3.05"/>
<path d="M336.6 53.2 H382.4" stroke="#00c000" stroke-width="3.05" stroke-dasharray="9.15 3.05 3.05 3.05"/>
<path d="M336.6 70.4 H385.2" stroke="#ff0000" stroke-width="3.1"/>
</g>
</svg>
</body></html>
